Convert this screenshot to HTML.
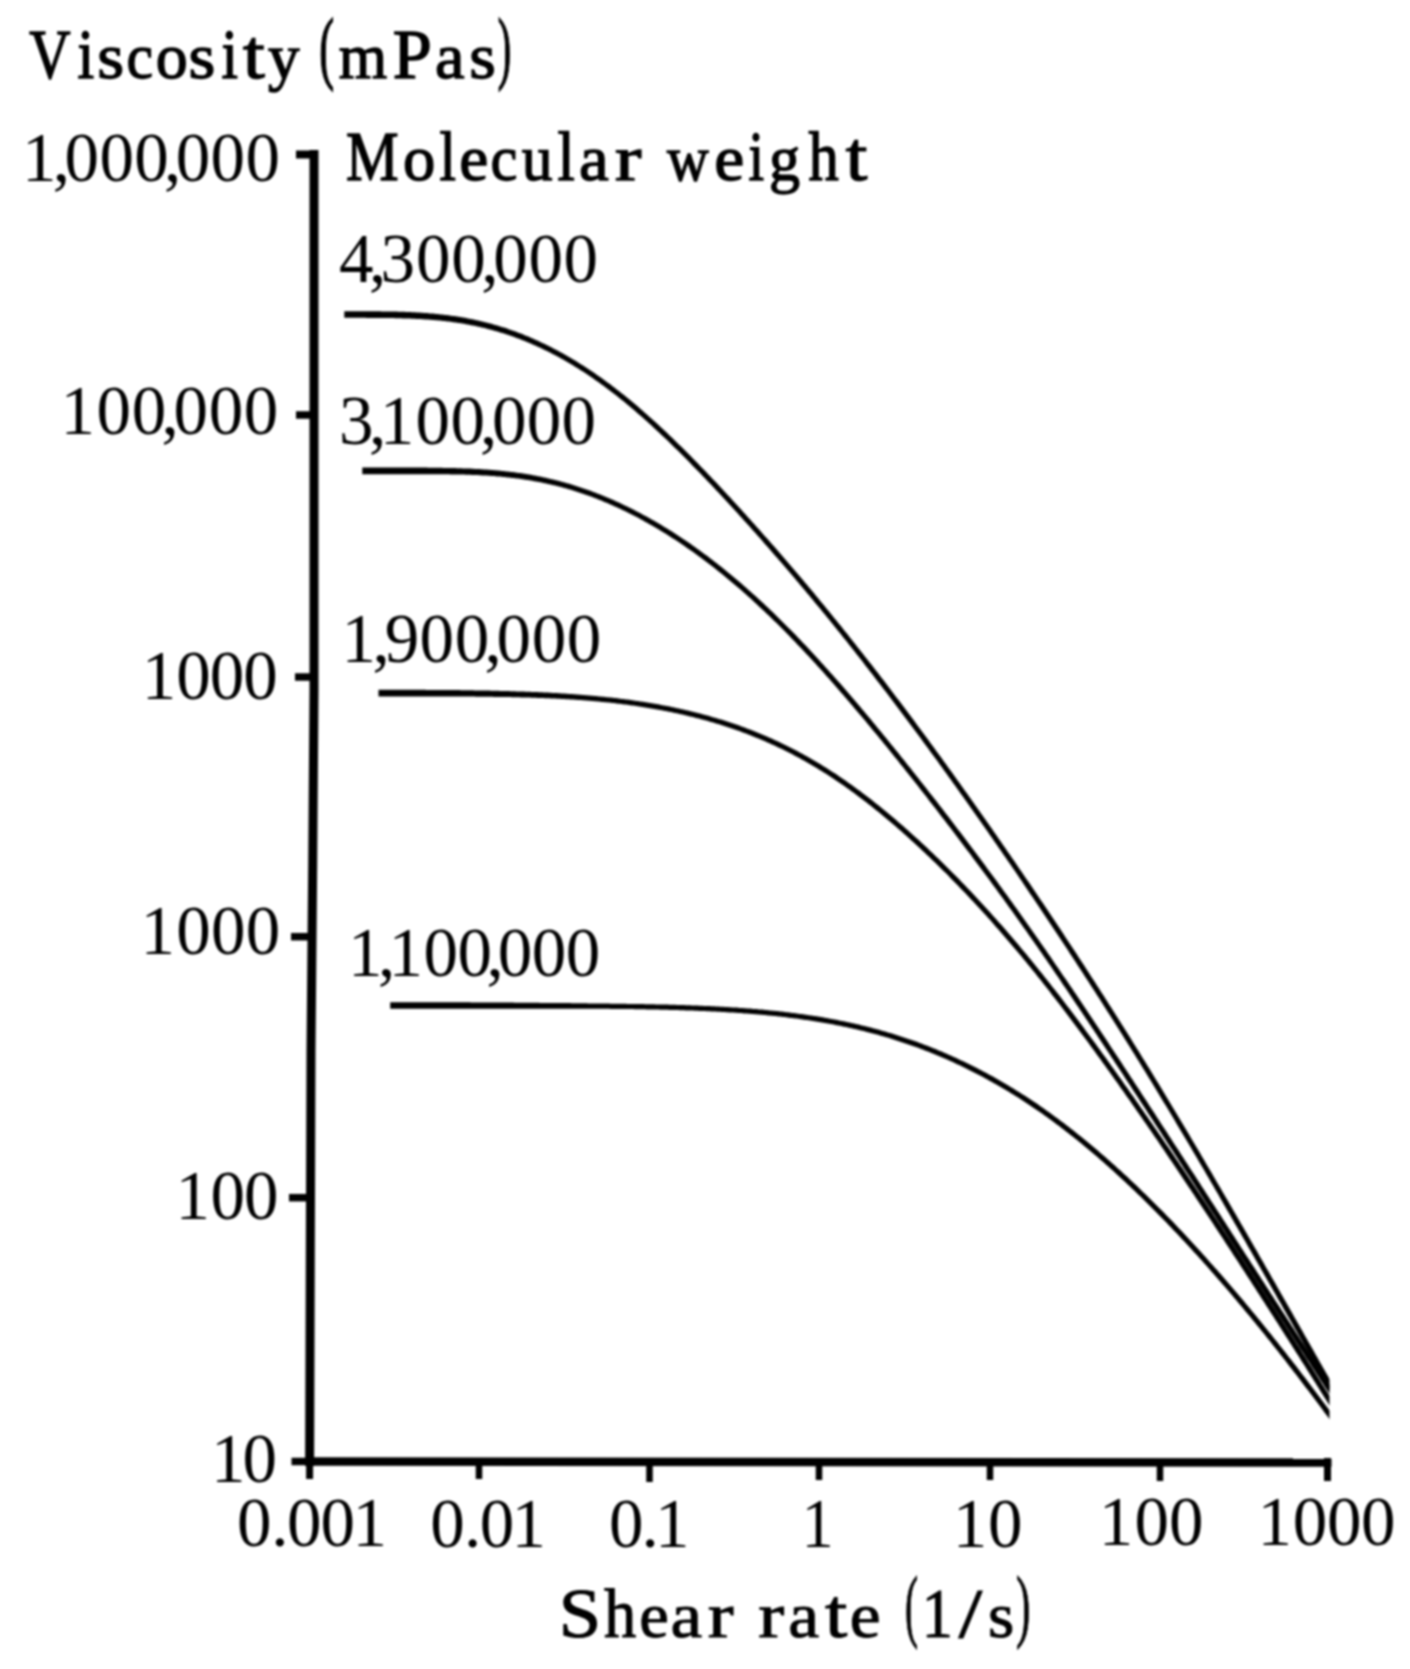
<!DOCTYPE html>
<html><head><meta charset="utf-8"><style>
html,body{margin:0;padding:0;background:#fff;width:1410px;height:1669px;overflow:hidden}
svg{display:block}
text{font-family:"Liberation Serif", serif;fill:#000}
</style></head><body>
<svg width="1410" height="1669" viewBox="0 0 1410 1669">
<defs><filter id="bl" x="-5%" y="-5%" width="110%" height="110%"><feGaussianBlur stdDeviation="1"/></filter><clipPath id="cp"><rect x="0" y="0" width="1329.5" height="1669"/></clipPath></defs>
<g filter="url(#bl)">
<g fill="none" stroke="#000" stroke-linecap="butt">
<path d="M314 150 L314 690 C314 760 311.2 1000 311 1050 L309.6 1466" stroke-width="9"/>
<path d="M296 154.5 L314 154.5" stroke-width="8"/>
<path d="M296 415 L313.5 415" stroke-width="7.5"/>
<path d="M295 677 L313 677" stroke-width="7.5"/>
<path d="M291 936.7 L312 936.7" stroke-width="7.5"/>
<path d="M289 1197.7 L311 1197.7" stroke-width="7.5"/>
<path d="M291.5 1461.5 L310 1461.5" stroke-width="7.5"/>
<path d="M305.6 1461.6 L1331.5 1462.6" stroke-width="8.5"/>
<path d="M309.6 1462 L309.6 1479" stroke-width="7"/>
<path d="M479 1462 L479 1479" stroke-width="6.5"/>
<path d="M649.5 1462 L649.5 1482" stroke-width="6.5"/>
<path d="M819 1462 L819 1480" stroke-width="6.5"/>
<path d="M990 1462 L990 1480" stroke-width="6.5"/>
<path d="M1160 1462 L1160 1481" stroke-width="6.5"/>
<path d="M1327.5 1458 L1327.5 1481" stroke-width="7"/>
</g>
<g clip-path="url(#cp)" fill="#000" stroke="none">
<path d="M344.3 317.8 L345.8 317.8 L347.3 317.8 L348.8 317.8 L350.3 317.8 L351.8 317.8 L353.3 317.8 L354.8 317.8 L356.3 317.8 L357.8 317.8 L359.3 317.8 L360.8 317.8 L362.3 317.8 L363.8 317.8 L365.3 317.8 L366.8 317.9 L368.3 317.9 L369.8 317.9 L371.3 317.9 L372.8 317.9 L374.3 317.9 L375.8 317.9 L377.3 317.9 L378.8 317.9 L380.3 317.9 L381.8 318.0 L383.3 318.0 L384.8 318.0 L386.3 318.0 L387.7 318.0 L389.2 318.1 L390.7 318.1 L392.2 318.1 L393.7 318.1 L395.2 318.2 L396.7 318.2 L398.2 318.3 L399.7 318.3 L401.2 318.3 L402.7 318.4 L404.2 318.4 L405.7 318.5 L407.2 318.5 L408.7 318.6 L410.2 318.6 L411.7 318.7 L413.1 318.8 L414.6 318.8 L416.1 318.9 L417.6 319.0 L419.1 319.0 L420.6 319.1 L422.1 319.2 L423.6 319.3 L425.1 319.4 L426.6 319.5 L428.1 319.6 L429.5 319.7 L431.0 319.8 L432.5 319.9 L434.0 320.1 L435.5 320.2 L437.0 320.3 L438.5 320.5 L440.0 320.6 L441.5 320.8 L442.9 320.9 L444.4 321.1 L445.9 321.3 L447.4 321.5 L448.9 321.6 L450.4 321.8 L451.9 322.0 L453.4 322.2 L454.9 322.4 L456.3 322.6 L457.8 322.9 L459.3 323.1 L460.8 323.3 L462.3 323.6 L463.8 323.8 L465.3 324.1 L466.7 324.4 L468.2 324.6 L469.7 324.9 L471.2 325.2 L472.7 325.5 L474.2 325.8 L475.7 326.1 L477.2 326.4 L478.6 326.8 L480.1 327.1 L481.6 327.4 L483.1 327.8 L484.6 328.1 L486.1 328.5 L487.6 328.9 L489.0 329.3 L490.5 329.7 L492.0 330.1 L493.5 330.5 L495.0 330.9 L496.5 331.3 L498.0 331.8 L499.5 332.2 L500.9 332.7 L502.4 333.1 L503.9 333.6 L505.4 334.1 L506.9 334.6 L508.4 335.0 L509.9 335.6 L511.4 336.1 L512.8 336.6 L514.3 337.1 L515.8 337.7 L517.3 338.2 L518.8 338.8 L520.3 339.3 L521.8 339.9 L523.3 340.5 L524.8 341.1 L526.2 341.7 L527.7 342.3 L529.2 342.9 L530.7 343.6 L532.2 344.2 L533.7 344.9 L535.2 345.5 L536.7 346.2 L538.2 346.9 L539.7 347.6 L541.1 348.3 L542.6 349.0 L544.1 349.7 L545.6 350.4 L547.1 351.1 L548.6 351.9 L550.1 352.6 L551.6 353.4 L553.1 354.2 L554.6 354.9 L556.1 355.7 L557.5 356.5 L559.0 357.3 L560.5 358.2 L562.0 359.0 L563.5 359.8 L565.0 360.7 L566.5 361.5 L568.0 362.4 L569.5 363.3 L571.0 364.2 L572.5 365.1 L573.9 366.0 L575.4 366.9 L576.9 367.8 L578.4 368.8 L579.9 369.7 L581.4 370.7 L582.9 371.6 L584.4 372.6 L585.9 373.6 L587.4 374.6 L588.8 375.6 L590.3 376.6 L591.8 377.6 L593.3 378.6 L594.8 379.7 L596.3 380.7 L597.8 381.8 L599.3 382.8 L600.8 383.9 L602.3 385.0 L603.8 386.1 L605.3 387.2 L606.7 388.3 L608.2 389.4 L609.7 390.5 L611.2 391.7 L612.7 392.8 L614.2 394.0 L615.7 395.1 L617.2 396.3 L618.7 397.5 L620.2 398.7 L621.7 399.9 L623.2 401.1 L624.7 402.3 L626.1 403.5 L627.6 404.8 L629.1 406.0 L630.6 407.3 L632.1 408.5 L633.6 409.8 L635.1 411.1 L636.6 412.4 L638.1 413.7 L639.6 415.0 L641.1 416.3 L642.6 417.6 L644.1 418.9 L645.6 420.2 L647.1 421.6 L648.6 422.9 L650.1 424.3 L651.5 425.6 L653.0 427.0 L654.5 428.4 L656.0 429.8 L657.5 431.2 L659.0 432.6 L660.5 434.0 L662.0 435.4 L663.5 436.8 L665.0 438.2 L666.5 439.6 L668.0 441.1 L669.5 442.5 L671.0 444.0 L672.5 445.4 L674.0 446.9 L675.5 448.4 L677.0 449.8 L678.5 451.3 L680.0 452.8 L681.5 454.3 L683.0 455.8 L684.5 457.3 L686.0 458.8 L687.5 460.3 L688.9 461.8 L690.4 463.3 L691.9 464.9 L693.4 466.4 L694.9 467.9 L696.4 469.5 L697.9 471.0 L699.4 472.6 L700.9 474.1 L702.4 475.7 L703.9 477.2 L705.4 478.8 L706.9 480.4 L708.4 482.0 L709.9 483.5 L711.4 485.1 L712.9 486.7 L714.4 488.3 L715.9 489.9 L717.4 491.5 L718.9 493.1 L720.4 494.7 L721.9 496.3 L723.4 497.9 L724.9 499.5 L726.4 501.2 L727.9 502.8 L729.4 504.4 L730.9 506.0 L732.4 507.7 L733.9 509.3 L735.4 510.9 L736.9 512.6 L738.4 514.2 L739.9 515.9 L741.4 517.5 L742.9 519.2 L744.4 520.9 L745.9 522.5 L747.4 524.2 L748.9 525.8 L750.4 527.5 L751.9 529.2 L753.4 530.9 L754.9 532.5 L756.4 534.2 L757.9 535.9 L759.4 537.6 L760.9 539.3 L762.4 541.0 L763.8 542.7 L765.3 544.4 L766.8 546.1 L768.3 547.8 L769.8 549.5 L771.3 551.2 L772.8 553.0 L774.3 554.7 L775.8 556.4 L777.3 558.1 L778.8 559.9 L780.3 561.6 L781.8 563.3 L783.3 565.1 L784.8 566.8 L786.3 568.6 L787.8 570.3 L789.3 572.1 L790.8 573.8 L792.3 575.6 L793.8 577.3 L795.3 579.1 L796.8 580.9 L798.3 582.6 L799.8 584.4 L801.3 586.2 L802.8 588.0 L804.3 589.8 L805.8 591.6 L807.3 593.4 L808.8 595.1 L810.3 596.9 L811.8 598.7 L813.3 600.6 L814.8 602.4 L816.3 604.2 L817.8 606.0 L819.3 607.8 L820.8 609.6 L822.3 611.5 L823.8 613.3 L825.3 615.1 L826.8 617.0 L828.3 618.8 L829.8 620.6 L831.3 622.5 L832.8 624.3 L834.3 626.2 L835.8 628.0 L837.3 629.9 L838.8 631.8 L840.3 633.6 L841.8 635.5 L843.3 637.4 L844.8 639.3 L846.3 641.1 L847.8 643.0 L849.3 644.9 L850.8 646.8 L852.3 648.7 L853.8 650.6 L855.3 652.5 L856.8 654.4 L858.3 656.3 L859.8 658.2 L861.3 660.1 L862.8 662.0 L864.3 663.9 L865.7 665.9 L867.2 667.8 L868.7 669.7 L870.2 671.7 L871.7 673.6 L873.2 675.5 L874.7 677.5 L876.2 679.4 L877.7 681.4 L879.2 683.3 L880.7 685.3 L882.2 687.2 L883.7 689.2 L885.2 691.1 L886.7 693.1 L888.2 695.1 L889.7 697.0 L891.2 699.0 L892.7 701.0 L894.2 703.0 L895.7 705.0 L897.2 706.9 L898.7 708.9 L900.2 710.9 L901.7 712.9 L903.2 714.9 L904.7 716.9 L906.2 718.9 L907.7 720.9 L909.2 722.9 L910.7 725.0 L912.2 727.0 L913.7 729.0 L915.2 731.0 L916.7 733.0 L918.2 735.1 L919.7 737.1 L921.2 739.1 L922.7 741.2 L924.2 743.2 L925.7 745.2 L927.2 747.3 L928.7 749.3 L930.2 751.4 L931.7 753.4 L933.2 755.5 L934.7 757.5 L936.2 759.6 L937.7 761.6 L939.2 763.7 L940.7 765.8 L942.2 767.8 L943.7 769.9 L945.2 772.0 L946.7 774.1 L948.2 776.2 L949.7 778.2 L951.2 780.3 L952.7 782.4 L954.2 784.5 L955.7 786.6 L957.2 788.7 L958.7 790.8 L960.2 792.9 L961.7 795.0 L963.2 797.1 L964.7 799.2 L966.2 801.3 L967.7 803.4 L969.2 805.5 L970.7 807.7 L972.2 809.8 L973.7 811.9 L975.2 814.0 L976.7 816.2 L978.2 818.3 L979.7 820.4 L981.2 822.5 L982.7 824.7 L984.2 826.8 L985.7 829.0 L987.2 831.1 L988.7 833.3 L990.2 835.4 L991.7 837.6 L993.2 839.7 L994.7 841.9 L996.2 844.0 L997.7 846.2 L999.2 848.4 L1000.7 850.5 L1002.2 852.7 L1003.7 854.9 L1005.2 857.0 L1006.7 859.2 L1008.2 861.4 L1009.7 863.6 L1011.2 865.8 L1012.7 868.0 L1014.2 870.1 L1015.7 872.3 L1017.2 874.5 L1018.7 876.7 L1020.2 878.9 L1021.7 881.1 L1023.1 883.3 L1024.6 885.5 L1026.1 887.7 L1027.6 890.0 L1029.1 892.2 L1030.6 894.4 L1032.1 896.6 L1033.6 898.8 L1035.1 901.1 L1036.6 903.3 L1038.1 905.5 L1039.6 907.7 L1041.1 910.0 L1042.6 912.2 L1044.1 914.5 L1045.6 916.7 L1047.1 918.9 L1048.6 921.2 L1050.1 923.4 L1051.6 925.7 L1053.1 927.9 L1054.6 930.2 L1056.1 932.5 L1057.6 934.7 L1059.1 937.0 L1060.6 939.3 L1062.1 941.5 L1063.6 943.8 L1065.1 946.1 L1066.6 948.3 L1068.1 950.6 L1069.6 952.9 L1071.1 955.2 L1072.6 957.5 L1074.1 959.8 L1075.6 962.1 L1077.1 964.4 L1078.6 966.7 L1080.1 969.0 L1081.6 971.3 L1083.1 973.6 L1084.6 975.9 L1086.1 978.2 L1087.6 980.5 L1089.1 982.8 L1090.6 985.2 L1092.1 987.5 L1093.6 989.8 L1095.1 992.1 L1096.6 994.5 L1098.1 996.8 L1099.6 999.1 L1101.1 1001.5 L1102.6 1003.8 L1104.1 1006.2 L1105.6 1008.5 L1107.1 1010.9 L1108.6 1013.2 L1110.1 1015.6 L1111.6 1018.0 L1113.1 1020.3 L1114.6 1022.7 L1116.1 1025.1 L1117.6 1027.5 L1119.1 1029.8 L1120.6 1032.2 L1122.1 1034.6 L1123.6 1037.0 L1125.1 1039.4 L1126.6 1041.8 L1128.1 1044.2 L1129.6 1046.6 L1131.1 1049.0 L1132.6 1051.4 L1134.1 1053.8 L1135.6 1056.3 L1137.1 1058.7 L1138.6 1061.1 L1140.1 1063.5 L1141.6 1066.0 L1143.1 1068.4 L1144.6 1070.8 L1146.1 1073.3 L1147.6 1075.7 L1149.1 1078.2 L1150.6 1080.6 L1152.1 1083.1 L1153.6 1085.5 L1155.1 1088.0 L1156.6 1090.5 L1158.1 1092.9 L1159.6 1095.4 L1161.1 1097.9 L1162.6 1100.4 L1164.1 1102.9 L1165.6 1105.3 L1167.1 1107.8 L1168.6 1110.3 L1170.1 1112.8 L1171.6 1115.3 L1173.1 1117.8 L1174.6 1120.3 L1176.1 1122.9 L1177.6 1125.4 L1179.1 1127.9 L1180.6 1130.4 L1182.1 1132.9 L1183.6 1135.5 L1185.1 1138.0 L1186.6 1140.5 L1188.1 1143.1 L1189.6 1145.6 L1191.1 1148.1 L1192.6 1150.7 L1194.1 1153.2 L1195.6 1155.8 L1197.1 1158.3 L1198.6 1160.9 L1200.1 1163.4 L1201.6 1166.0 L1203.1 1168.6 L1204.6 1171.1 L1206.1 1173.7 L1207.6 1176.3 L1209.1 1178.8 L1210.6 1181.4 L1212.1 1184.0 L1213.6 1186.6 L1215.1 1189.2 L1216.6 1191.7 L1218.1 1194.3 L1219.6 1196.9 L1221.0 1199.5 L1222.5 1202.1 L1224.0 1204.7 L1225.5 1207.3 L1227.0 1209.9 L1228.5 1212.5 L1230.0 1215.1 L1231.5 1217.7 L1233.0 1220.3 L1234.5 1222.9 L1236.0 1225.5 L1237.5 1228.1 L1239.0 1230.7 L1240.5 1233.3 L1242.0 1235.9 L1243.5 1238.5 L1245.0 1241.1 L1246.5 1243.8 L1248.0 1246.4 L1249.5 1249.0 L1251.0 1251.6 L1252.5 1254.2 L1254.0 1256.8 L1255.5 1259.5 L1257.0 1262.1 L1258.5 1264.7 L1260.0 1267.3 L1261.5 1270.0 L1263.0 1272.6 L1264.5 1275.2 L1266.0 1277.8 L1267.5 1280.5 L1269.0 1283.1 L1270.5 1285.7 L1272.0 1288.3 L1273.5 1291.0 L1275.0 1293.6 L1276.5 1296.2 L1278.0 1298.9 L1279.5 1301.5 L1281.0 1304.1 L1282.5 1306.8 L1284.0 1309.4 L1285.5 1312.1 L1287.0 1314.7 L1288.5 1317.3 L1290.0 1320.0 L1291.5 1322.6 L1293.0 1325.2 L1294.5 1327.9 L1296.0 1330.5 L1297.5 1333.2 L1299.0 1335.8 L1300.5 1338.5 L1302.0 1341.1 L1303.5 1343.7 L1305.0 1346.4 L1306.5 1349.0 L1308.0 1351.7 L1309.5 1354.3 L1311.0 1357.0 L1312.5 1359.6 L1314.0 1362.3 L1315.5 1364.9 L1317.0 1367.6 L1318.5 1370.2 L1320.0 1372.9 L1321.5 1375.5 L1323.0 1378.2 L1324.5 1380.8 L1325.7 1383.0 L1333.7 1397.1 L1338.3 1394.6 L1330.3 1380.4 L1329.1 1378.3 L1327.6 1375.6 L1326.1 1373.0 L1324.6 1370.3 L1323.1 1367.7 L1321.6 1365.0 L1320.1 1362.4 L1318.6 1359.7 L1317.1 1357.1 L1315.6 1354.4 L1314.1 1351.8 L1312.6 1349.1 L1311.1 1346.5 L1309.6 1343.8 L1308.1 1341.2 L1306.6 1338.5 L1305.1 1335.9 L1303.6 1333.2 L1302.1 1330.6 L1300.6 1328.0 L1299.1 1325.3 L1297.6 1322.7 L1296.1 1320.0 L1294.6 1317.4 L1293.1 1314.8 L1291.6 1312.1 L1290.1 1309.5 L1288.6 1306.8 L1287.1 1304.2 L1285.6 1301.6 L1284.1 1298.9 L1282.6 1296.3 L1281.1 1293.7 L1279.6 1291.0 L1278.1 1288.4 L1276.6 1285.8 L1275.1 1283.1 L1273.6 1280.5 L1272.1 1277.9 L1270.6 1275.3 L1269.1 1272.6 L1267.6 1270.0 L1266.1 1267.4 L1264.6 1264.8 L1263.1 1262.1 L1261.6 1259.5 L1260.1 1256.9 L1258.6 1254.3 L1257.1 1251.6 L1255.6 1249.0 L1254.1 1246.4 L1252.6 1243.8 L1251.1 1241.2 L1249.6 1238.6 L1248.1 1235.9 L1246.6 1233.3 L1245.1 1230.7 L1243.6 1228.1 L1242.1 1225.5 L1240.6 1222.9 L1239.1 1220.3 L1237.6 1217.7 L1236.1 1215.1 L1234.6 1212.5 L1233.1 1209.9 L1231.6 1207.3 L1230.1 1204.7 L1228.6 1202.1 L1227.1 1199.5 L1225.6 1196.9 L1224.0 1194.3 L1222.5 1191.7 L1221.0 1189.1 L1219.5 1186.5 L1218.0 1184.0 L1216.5 1181.4 L1215.0 1178.8 L1213.5 1176.2 L1212.0 1173.6 L1210.5 1171.1 L1209.0 1168.5 L1207.5 1165.9 L1206.0 1163.4 L1204.5 1160.8 L1203.0 1158.3 L1201.5 1155.7 L1200.0 1153.1 L1198.5 1150.6 L1197.0 1148.0 L1195.5 1145.5 L1194.0 1143.0 L1192.5 1140.4 L1191.0 1137.9 L1189.5 1135.3 L1188.0 1132.8 L1186.5 1130.3 L1185.0 1127.8 L1183.5 1125.2 L1182.0 1122.7 L1180.5 1120.2 L1179.0 1117.7 L1177.5 1115.2 L1176.0 1112.7 L1174.5 1110.2 L1173.0 1107.7 L1171.5 1105.2 L1170.0 1102.7 L1168.5 1100.2 L1167.0 1097.7 L1165.5 1095.2 L1164.0 1092.7 L1162.5 1090.2 L1161.0 1087.8 L1159.5 1085.3 L1158.0 1082.8 L1156.5 1080.4 L1155.0 1077.9 L1153.5 1075.5 L1152.0 1073.0 L1150.5 1070.6 L1149.0 1068.1 L1147.5 1065.7 L1146.0 1063.2 L1144.5 1060.8 L1143.0 1058.4 L1141.5 1055.9 L1140.0 1053.5 L1138.5 1051.1 L1137.0 1048.7 L1135.5 1046.3 L1134.0 1043.9 L1132.5 1041.4 L1131.0 1039.0 L1129.5 1036.6 L1128.0 1034.2 L1126.5 1031.8 L1125.0 1029.5 L1123.5 1027.1 L1122.0 1024.7 L1120.5 1022.3 L1119.0 1019.9 L1117.5 1017.6 L1116.0 1015.2 L1114.5 1012.8 L1113.0 1010.5 L1111.5 1008.1 L1110.0 1005.7 L1108.5 1003.4 L1107.0 1001.0 L1105.5 998.7 L1104.0 996.3 L1102.5 994.0 L1101.0 991.7 L1099.5 989.3 L1098.0 987.0 L1096.5 984.7 L1095.0 982.3 L1093.5 980.0 L1092.0 977.7 L1090.5 975.4 L1089.0 973.1 L1087.5 970.7 L1086.0 968.4 L1084.5 966.1 L1083.0 963.8 L1081.5 961.5 L1080.0 959.2 L1078.5 956.9 L1077.0 954.6 L1075.5 952.3 L1074.0 950.1 L1072.5 947.8 L1071.0 945.5 L1069.5 943.2 L1068.0 940.9 L1066.5 938.7 L1065.0 936.4 L1063.5 934.1 L1062.0 931.8 L1060.5 929.6 L1059.0 927.3 L1057.5 925.1 L1056.0 922.8 L1054.5 920.6 L1053.0 918.3 L1051.5 916.1 L1050.0 913.8 L1048.5 911.6 L1047.0 909.3 L1045.5 907.1 L1044.0 904.8 L1042.5 902.6 L1041.0 900.4 L1039.5 898.2 L1038.0 895.9 L1036.5 893.7 L1035.0 891.5 L1033.5 889.3 L1032.0 887.0 L1030.5 884.8 L1029.0 882.6 L1027.5 880.4 L1025.9 878.2 L1024.4 876.0 L1022.9 873.8 L1021.4 871.6 L1019.9 869.4 L1018.4 867.2 L1016.9 865.0 L1015.4 862.8 L1013.9 860.6 L1012.4 858.5 L1010.9 856.3 L1009.4 854.1 L1007.9 851.9 L1006.4 849.7 L1004.9 847.6 L1003.4 845.4 L1001.9 843.2 L1000.4 841.1 L998.9 838.9 L997.4 836.8 L995.9 834.6 L994.4 832.4 L992.9 830.3 L991.4 828.1 L989.9 826.0 L988.4 823.8 L986.9 821.7 L985.4 819.6 L983.9 817.4 L982.4 815.3 L980.9 813.2 L979.4 811.0 L977.9 808.9 L976.4 806.8 L974.9 804.7 L973.4 802.5 L971.9 800.4 L970.4 798.3 L968.9 796.2 L967.4 794.1 L965.9 792.0 L964.4 789.9 L962.9 787.8 L961.4 785.7 L959.9 783.6 L958.4 781.5 L956.9 779.4 L955.4 777.3 L953.9 775.2 L952.4 773.1 L950.9 771.0 L949.4 769.0 L947.9 766.9 L946.4 764.8 L944.9 762.7 L943.4 760.7 L941.9 758.6 L940.4 756.5 L938.9 754.5 L937.4 752.4 L935.9 750.4 L934.4 748.3 L932.9 746.2 L931.4 744.2 L929.9 742.2 L928.4 740.1 L926.9 738.1 L925.4 736.0 L923.9 734.0 L922.4 732.0 L920.9 729.9 L919.4 727.9 L917.9 725.9 L916.4 723.9 L914.9 721.8 L913.4 719.8 L911.9 717.8 L910.4 715.8 L908.9 713.8 L907.4 711.8 L905.9 709.8 L904.4 707.8 L902.9 705.8 L901.4 703.8 L899.9 701.8 L898.4 699.8 L896.9 697.9 L895.4 695.9 L893.9 693.9 L892.4 691.9 L890.9 690.0 L889.4 688.0 L887.9 686.0 L886.4 684.1 L884.9 682.1 L883.4 680.1 L881.9 678.2 L880.4 676.2 L878.9 674.3 L877.4 672.3 L875.9 670.4 L874.4 668.5 L872.9 666.5 L871.4 664.6 L869.9 662.7 L868.3 660.7 L866.8 658.8 L865.3 656.9 L863.8 655.0 L862.3 653.1 L860.8 651.2 L859.3 649.3 L857.8 647.4 L856.3 645.5 L854.8 643.6 L853.3 641.7 L851.8 639.8 L850.3 637.9 L848.8 636.0 L847.3 634.1 L845.8 632.3 L844.3 630.4 L842.8 628.5 L841.3 626.6 L839.8 624.8 L838.3 622.9 L836.8 621.1 L835.3 619.2 L833.8 617.4 L832.3 615.5 L830.8 613.7 L829.3 611.8 L827.8 610.0 L826.3 608.2 L824.8 606.3 L823.3 604.5 L821.8 602.7 L820.3 600.9 L818.8 599.0 L817.3 597.2 L815.8 595.4 L814.3 593.6 L812.8 591.8 L811.3 590.0 L809.8 588.2 L808.3 586.4 L806.8 584.6 L805.3 582.9 L803.8 581.1 L802.3 579.3 L800.8 577.5 L799.3 575.7 L797.8 574.0 L796.3 572.2 L794.8 570.4 L793.3 568.7 L791.8 566.9 L790.3 565.2 L788.8 563.4 L787.3 561.7 L785.8 559.9 L784.3 558.2 L782.8 556.5 L781.3 554.7 L779.8 553.0 L778.3 551.3 L776.8 549.5 L775.3 547.8 L773.8 546.1 L772.3 544.4 L770.8 542.7 L769.3 541.0 L767.8 539.3 L766.2 537.6 L764.7 535.9 L763.2 534.2 L761.7 532.5 L760.2 530.8 L758.7 529.1 L757.2 527.4 L755.7 525.7 L754.2 524.0 L752.7 522.4 L751.2 520.7 L749.7 519.0 L748.2 517.4 L746.7 515.7 L745.2 514.0 L743.7 512.4 L742.2 510.7 L740.7 509.1 L739.2 507.4 L737.7 505.8 L736.2 504.2 L734.7 502.5 L733.2 500.9 L731.7 499.3 L730.2 497.6 L728.7 496.0 L727.2 494.4 L725.7 492.8 L724.2 491.2 L722.7 489.5 L721.2 487.9 L719.7 486.3 L718.2 484.7 L716.7 483.1 L715.2 481.5 L713.7 480.0 L712.2 478.4 L710.7 476.8 L709.2 475.2 L707.7 473.7 L706.2 472.1 L704.7 470.5 L703.2 469.0 L701.7 467.4 L700.2 465.9 L698.7 464.3 L697.2 462.8 L695.7 461.2 L694.2 459.7 L692.7 458.2 L691.1 456.6 L689.6 455.1 L688.1 453.6 L686.6 452.1 L685.1 450.6 L683.6 449.1 L682.1 447.6 L680.6 446.1 L679.1 444.7 L677.6 443.2 L676.1 441.7 L674.6 440.2 L673.1 438.8 L671.6 437.3 L670.1 435.9 L668.6 434.5 L667.1 433.0 L665.6 431.6 L664.1 430.2 L662.6 428.8 L661.1 427.4 L659.6 426.0 L658.1 424.6 L656.6 423.2 L655.1 421.8 L653.5 420.4 L652.0 419.1 L650.5 417.7 L649.0 416.4 L647.5 415.0 L646.0 413.7 L644.5 412.4 L643.0 411.0 L641.5 409.7 L640.0 408.4 L638.5 407.1 L637.0 405.8 L635.5 404.6 L634.0 403.3 L632.5 402.0 L631.0 400.8 L629.5 399.5 L627.9 398.3 L626.4 397.1 L624.9 395.8 L623.4 394.6 L621.9 393.4 L620.4 392.2 L618.9 391.1 L617.4 389.9 L615.9 388.7 L614.4 387.6 L612.9 386.4 L611.4 385.3 L609.9 384.1 L608.3 383.0 L606.8 381.9 L605.3 380.8 L603.8 379.7 L602.3 378.6 L600.8 377.5 L599.3 376.5 L597.8 375.4 L596.3 374.4 L594.8 373.3 L593.3 372.3 L591.8 371.3 L590.2 370.2 L588.7 369.2 L587.2 368.2 L585.7 367.3 L584.2 366.3 L582.7 365.3 L581.2 364.4 L579.7 363.4 L578.2 362.5 L576.7 361.5 L575.1 360.6 L573.6 359.7 L572.1 358.8 L570.6 357.9 L569.1 357.0 L567.6 356.2 L566.1 355.3 L564.6 354.4 L563.1 353.6 L561.6 352.8 L560.1 351.9 L558.5 351.1 L557.0 350.3 L555.5 349.5 L554.0 348.7 L552.5 347.9 L551.0 347.1 L549.5 346.4 L548.0 345.6 L546.5 344.9 L545.0 344.1 L543.5 343.4 L541.9 342.7 L540.4 342.0 L538.9 341.3 L537.4 340.6 L535.9 339.9 L534.4 339.2 L532.9 338.5 L531.4 337.9 L529.9 337.2 L528.4 336.6 L526.8 336.0 L525.3 335.4 L523.8 334.7 L522.3 334.1 L520.8 333.6 L519.3 333.0 L517.8 332.4 L516.3 331.8 L514.8 331.3 L513.2 330.7 L511.7 330.2 L510.2 329.7 L508.7 329.2 L507.2 328.6 L505.7 328.1 L504.2 327.6 L502.7 327.2 L501.1 326.7 L499.6 326.2 L498.1 325.8 L496.6 325.3 L495.1 324.9 L493.6 324.5 L492.1 324.0 L490.6 323.6 L489.0 323.2 L487.5 322.8 L486.0 322.4 L484.5 322.0 L483.0 321.7 L481.5 321.3 L480.0 321.0 L478.4 320.6 L476.9 320.3 L475.4 319.9 L473.9 319.6 L472.4 319.3 L470.9 319.0 L469.4 318.7 L467.9 318.4 L466.3 318.1 L464.8 317.8 L463.3 317.6 L461.8 317.3 L460.3 317.1 L458.8 316.8 L457.3 316.6 L455.7 316.3 L454.2 316.1 L452.7 315.9 L451.2 315.7 L449.7 315.5 L448.2 315.3 L446.7 315.1 L445.2 314.9 L443.7 314.7 L442.1 314.5 L440.6 314.4 L439.1 314.2 L437.6 314.1 L436.1 313.9 L434.6 313.8 L433.1 313.6 L431.6 313.5 L430.1 313.4 L428.5 313.2 L427.0 313.1 L425.5 313.0 L424.0 312.9 L422.5 312.8 L421.0 312.7 L419.5 312.6 L418.0 312.5 L416.5 312.4 L415.0 312.3 L413.5 312.2 L411.9 312.2 L410.4 312.1 L408.9 312.0 L407.4 312.0 L405.9 311.9 L404.4 311.8 L402.9 311.8 L401.4 311.7 L399.9 311.7 L398.4 311.7 L396.9 311.6 L395.4 311.6 L393.9 311.6 L392.4 311.5 L390.9 311.5 L389.4 311.5 L387.9 311.4 L386.3 311.4 L384.8 311.4 L383.3 311.4 L381.8 311.4 L380.3 311.3 L378.8 311.3 L377.3 311.3 L375.8 311.3 L374.3 311.3 L372.8 311.3 L371.3 311.3 L369.8 311.3 L368.3 311.3 L366.8 311.3 L365.3 311.2 L363.8 311.2 L362.3 311.2 L360.8 311.2 L359.3 311.2 L357.8 311.2 L356.3 311.2 L354.8 311.2 L353.3 311.2 L351.8 311.2 L350.3 311.2 L348.8 311.2 L347.3 311.2 L345.8 311.2 L344.3 311.2Z"/>
<path d="M362.3 474.2 L363.8 474.2 L365.3 474.2 L366.8 474.2 L368.3 474.2 L369.8 474.2 L371.3 474.2 L372.8 474.2 L374.3 474.2 L375.8 474.2 L377.3 474.2 L378.8 474.2 L380.3 474.2 L381.8 474.2 L383.3 474.2 L384.8 474.2 L386.3 474.2 L387.8 474.2 L389.3 474.2 L390.8 474.2 L392.3 474.2 L393.8 474.2 L395.3 474.2 L396.8 474.2 L398.3 474.2 L399.8 474.2 L401.3 474.2 L402.8 474.2 L404.3 474.2 L405.8 474.2 L407.3 474.2 L408.8 474.2 L410.3 474.2 L411.8 474.2 L413.3 474.2 L414.8 474.2 L416.3 474.2 L417.8 474.2 L419.3 474.2 L420.8 474.2 L422.3 474.2 L423.8 474.2 L425.3 474.2 L426.8 474.2 L428.3 474.2 L429.8 474.2 L431.3 474.2 L432.8 474.2 L434.3 474.2 L435.8 474.2 L437.3 474.2 L438.8 474.2 L440.3 474.2 L441.8 474.3 L443.3 474.3 L444.8 474.3 L446.3 474.3 L447.7 474.3 L449.2 474.3 L450.7 474.4 L452.2 474.4 L453.7 474.4 L455.2 474.4 L456.7 474.5 L458.2 474.5 L459.7 474.5 L461.2 474.6 L462.7 474.6 L464.2 474.6 L465.7 474.7 L467.2 474.7 L468.7 474.8 L470.2 474.8 L471.7 474.9 L473.2 474.9 L474.7 475.0 L476.2 475.1 L477.6 475.1 L479.1 475.2 L480.6 475.3 L482.1 475.4 L483.6 475.4 L485.1 475.5 L486.6 475.6 L488.1 475.7 L489.6 475.8 L491.1 475.9 L492.6 476.0 L494.1 476.1 L495.5 476.2 L497.0 476.4 L498.5 476.5 L500.0 476.6 L501.5 476.8 L503.0 476.9 L504.5 477.0 L506.0 477.2 L507.5 477.4 L509.0 477.5 L510.5 477.7 L511.9 477.9 L513.4 478.0 L514.9 478.2 L516.4 478.4 L517.9 478.6 L519.4 478.8 L520.9 479.0 L522.4 479.2 L523.9 479.5 L525.4 479.7 L526.8 479.9 L528.3 480.1 L529.8 480.4 L531.3 480.6 L532.8 480.9 L534.3 481.2 L535.8 481.4 L537.3 481.7 L538.8 482.0 L540.2 482.3 L541.7 482.6 L543.2 482.9 L544.7 483.2 L546.2 483.5 L547.7 483.9 L549.2 484.2 L550.7 484.5 L552.2 484.9 L553.7 485.2 L555.1 485.6 L556.6 486.0 L558.1 486.3 L559.6 486.7 L561.1 487.1 L562.6 487.5 L564.1 487.9 L565.6 488.3 L567.1 488.8 L568.5 489.2 L570.0 489.6 L571.5 490.1 L573.0 490.5 L574.5 491.0 L576.0 491.5 L577.5 491.9 L579.0 492.4 L580.5 492.9 L582.0 493.4 L583.5 493.9 L584.9 494.4 L586.4 495.0 L587.9 495.5 L589.4 496.0 L590.9 496.6 L592.4 497.1 L593.9 497.7 L595.4 498.3 L596.9 498.8 L598.3 499.4 L599.8 500.0 L601.3 500.6 L602.8 501.2 L604.3 501.9 L605.8 502.5 L607.3 503.1 L608.8 503.8 L610.3 504.4 L611.7 505.1 L613.2 505.7 L614.7 506.4 L616.2 507.1 L617.7 507.8 L619.2 508.4 L620.7 509.1 L622.2 509.9 L623.7 510.6 L625.2 511.3 L626.7 512.0 L628.1 512.8 L629.6 513.5 L631.1 514.3 L632.6 515.0 L634.1 515.8 L635.6 516.6 L637.1 517.3 L638.6 518.1 L640.1 518.9 L641.6 519.7 L643.1 520.6 L644.5 521.4 L646.0 522.2 L647.5 523.0 L649.0 523.9 L650.5 524.7 L652.0 525.6 L653.5 526.5 L655.0 527.3 L656.5 528.2 L658.0 529.1 L659.5 530.0 L661.0 530.9 L662.4 531.8 L663.9 532.7 L665.4 533.6 L666.9 534.6 L668.4 535.5 L669.9 536.5 L671.4 537.4 L672.9 538.4 L674.4 539.3 L675.9 540.3 L677.4 541.3 L678.9 542.3 L680.4 543.3 L681.8 544.3 L683.3 545.3 L684.8 546.3 L686.3 547.4 L687.8 548.4 L689.3 549.4 L690.8 550.5 L692.3 551.5 L693.8 552.6 L695.3 553.7 L696.8 554.8 L698.3 555.9 L699.8 556.9 L701.3 558.1 L702.7 559.2 L704.2 560.3 L705.7 561.4 L707.2 562.5 L708.7 563.7 L710.2 564.8 L711.7 566.0 L713.2 567.1 L714.7 568.3 L716.2 569.5 L717.7 570.7 L719.2 571.9 L720.7 573.1 L722.2 574.3 L723.7 575.5 L725.2 576.7 L726.6 577.9 L728.1 579.2 L729.6 580.4 L731.1 581.7 L732.6 582.9 L734.1 584.2 L735.6 585.5 L737.1 586.8 L738.6 588.0 L740.1 589.3 L741.6 590.6 L743.1 592.0 L744.6 593.3 L746.1 594.6 L747.6 595.9 L749.1 597.3 L750.6 598.6 L752.1 600.0 L753.5 601.3 L755.0 602.7 L756.5 604.1 L758.0 605.5 L759.5 606.9 L761.0 608.3 L762.5 609.7 L764.0 611.1 L765.5 612.5 L767.0 613.9 L768.5 615.3 L770.0 616.8 L771.5 618.2 L773.0 619.7 L774.5 621.2 L776.0 622.6 L777.5 624.1 L779.0 625.6 L780.5 627.1 L782.0 628.6 L783.5 630.1 L785.0 631.6 L786.4 633.1 L787.9 634.6 L789.4 636.1 L790.9 637.7 L792.4 639.2 L793.9 640.8 L795.4 642.3 L796.9 643.9 L798.4 645.4 L799.9 647.0 L801.4 648.6 L802.9 650.2 L804.4 651.8 L805.9 653.4 L807.4 655.0 L808.9 656.6 L810.4 658.2 L811.9 659.8 L813.4 661.5 L814.9 663.1 L816.4 664.7 L817.9 666.4 L819.4 668.0 L820.9 669.7 L822.4 671.3 L823.9 673.0 L825.4 674.7 L826.9 676.4 L828.4 678.0 L829.9 679.7 L831.4 681.4 L832.8 683.1 L834.3 684.8 L835.8 686.5 L837.3 688.2 L838.8 690.0 L840.3 691.7 L841.8 693.4 L843.3 695.1 L844.8 696.9 L846.3 698.6 L847.8 700.4 L849.3 702.1 L850.8 703.9 L852.3 705.6 L853.8 707.4 L855.3 709.2 L856.8 710.9 L858.3 712.7 L859.8 714.5 L861.3 716.3 L862.8 718.1 L864.3 719.8 L865.8 721.6 L867.3 723.4 L868.8 725.2 L870.3 727.1 L871.8 728.9 L873.3 730.7 L874.8 732.5 L876.3 734.3 L877.8 736.1 L879.3 738.0 L880.8 739.8 L882.3 741.6 L883.8 743.5 L885.3 745.3 L886.8 747.1 L888.3 749.0 L889.8 750.8 L891.3 752.7 L892.8 754.5 L894.3 756.4 L895.8 758.3 L897.3 760.1 L898.8 762.0 L900.3 763.9 L901.8 765.7 L903.3 767.6 L904.8 769.5 L906.3 771.4 L907.8 773.3 L909.3 775.2 L910.8 777.0 L912.3 778.9 L913.8 780.8 L915.3 782.7 L916.8 784.6 L918.3 786.5 L919.8 788.4 L921.3 790.4 L922.8 792.3 L924.3 794.2 L925.8 796.1 L927.3 798.0 L928.7 799.9 L930.2 801.9 L931.7 803.8 L933.2 805.7 L934.7 807.6 L936.2 809.6 L937.7 811.5 L939.2 813.5 L940.7 815.4 L942.2 817.4 L943.7 819.3 L945.2 821.3 L946.7 823.2 L948.2 825.2 L949.7 827.1 L951.2 829.1 L952.7 831.0 L954.2 833.0 L955.7 835.0 L957.2 837.0 L958.7 838.9 L960.2 840.9 L961.7 842.9 L963.2 844.9 L964.7 846.9 L966.2 848.9 L967.7 850.9 L969.2 852.8 L970.7 854.8 L972.2 856.9 L973.7 858.9 L975.2 860.9 L976.7 862.9 L978.2 864.9 L979.7 866.9 L981.2 868.9 L982.7 871.0 L984.2 873.0 L985.7 875.0 L987.2 877.0 L988.7 879.1 L990.2 881.1 L991.7 883.2 L993.2 885.2 L994.7 887.3 L996.2 889.3 L997.7 891.4 L999.2 893.4 L1000.7 895.5 L1002.2 897.6 L1003.7 899.6 L1005.2 901.7 L1006.7 903.8 L1008.2 905.9 L1009.7 908.0 L1011.2 910.1 L1012.7 912.1 L1014.2 914.2 L1015.7 916.3 L1017.2 918.4 L1018.7 920.6 L1020.2 922.7 L1021.7 924.8 L1023.2 926.9 L1024.7 929.0 L1026.2 931.1 L1027.7 933.3 L1029.2 935.4 L1030.7 937.5 L1032.2 939.7 L1033.7 941.8 L1035.2 944.0 L1036.7 946.1 L1038.2 948.3 L1039.7 950.4 L1041.2 952.6 L1042.7 954.8 L1044.2 956.9 L1045.7 959.1 L1047.2 961.3 L1048.7 963.4 L1050.2 965.6 L1051.7 967.8 L1053.2 970.0 L1054.7 972.2 L1056.2 974.4 L1057.7 976.6 L1059.2 978.8 L1060.7 981.0 L1062.1 983.2 L1063.6 985.4 L1065.1 987.6 L1066.6 989.8 L1068.1 992.0 L1069.6 994.3 L1071.1 996.5 L1072.6 998.7 L1074.1 1000.9 L1075.6 1003.2 L1077.1 1005.4 L1078.6 1007.6 L1080.1 1009.9 L1081.6 1012.1 L1083.1 1014.4 L1084.6 1016.6 L1086.1 1018.9 L1087.6 1021.1 L1089.1 1023.4 L1090.6 1025.6 L1092.1 1027.9 L1093.6 1030.1 L1095.1 1032.4 L1096.6 1034.6 L1098.1 1036.9 L1099.6 1039.2 L1101.1 1041.4 L1102.6 1043.7 L1104.1 1046.0 L1105.6 1048.3 L1107.1 1050.5 L1108.6 1052.8 L1110.1 1055.1 L1111.6 1057.4 L1113.1 1059.6 L1114.6 1061.9 L1116.1 1064.2 L1117.6 1066.5 L1119.1 1068.8 L1120.6 1071.1 L1122.1 1073.3 L1123.6 1075.6 L1125.1 1077.9 L1126.6 1080.2 L1128.1 1082.5 L1129.6 1084.8 L1131.1 1087.1 L1132.6 1089.4 L1134.1 1091.7 L1135.6 1094.0 L1137.1 1096.3 L1138.6 1098.6 L1140.1 1100.9 L1141.6 1103.2 L1143.1 1105.5 L1144.6 1107.8 L1146.1 1110.1 L1147.6 1112.4 L1149.1 1114.7 L1150.6 1117.0 L1152.1 1119.3 L1153.6 1121.6 L1155.1 1123.9 L1156.6 1126.2 L1158.1 1128.5 L1159.6 1130.8 L1161.1 1133.1 L1162.6 1135.4 L1164.1 1137.8 L1165.6 1140.1 L1167.1 1142.4 L1168.6 1144.7 L1170.1 1147.0 L1171.6 1149.3 L1173.1 1151.6 L1174.6 1154.0 L1176.1 1156.3 L1177.6 1158.6 L1179.1 1160.9 L1180.6 1163.2 L1182.1 1165.5 L1183.6 1167.9 L1185.1 1170.2 L1186.6 1172.5 L1188.1 1174.8 L1189.6 1177.1 L1191.1 1179.5 L1192.6 1181.8 L1194.1 1184.1 L1195.6 1186.4 L1197.1 1188.8 L1198.6 1191.1 L1200.1 1193.4 L1201.6 1195.7 L1203.1 1198.0 L1204.6 1200.4 L1206.1 1202.7 L1207.6 1205.0 L1209.1 1207.3 L1210.6 1209.7 L1212.1 1212.0 L1213.6 1214.3 L1215.1 1216.6 L1216.6 1219.0 L1218.1 1221.3 L1219.6 1223.6 L1221.1 1225.9 L1222.6 1228.3 L1224.1 1230.6 L1225.6 1232.9 L1227.1 1235.2 L1228.6 1237.6 L1230.1 1239.9 L1231.6 1242.2 L1233.1 1244.5 L1234.6 1246.9 L1236.1 1249.2 L1237.6 1251.5 L1239.1 1253.8 L1240.6 1256.2 L1242.1 1258.5 L1243.6 1260.8 L1245.1 1263.1 L1246.6 1265.5 L1248.1 1267.8 L1249.6 1270.1 L1251.1 1272.5 L1252.6 1274.8 L1254.1 1277.1 L1255.6 1279.4 L1257.1 1281.8 L1258.6 1284.1 L1260.1 1286.4 L1261.6 1288.7 L1263.1 1291.1 L1264.6 1293.4 L1266.1 1295.7 L1267.6 1298.0 L1269.1 1300.4 L1270.6 1302.7 L1272.1 1305.0 L1273.6 1307.3 L1275.1 1309.7 L1276.6 1312.0 L1278.1 1314.3 L1279.6 1316.6 L1281.1 1319.0 L1282.6 1321.3 L1284.1 1323.6 L1285.6 1325.9 L1287.1 1328.3 L1288.6 1330.6 L1290.1 1332.9 L1291.6 1335.2 L1293.1 1337.6 L1294.6 1339.9 L1296.1 1342.2 L1297.6 1344.5 L1299.1 1346.9 L1300.6 1349.2 L1302.1 1351.5 L1303.6 1353.8 L1305.1 1356.2 L1306.6 1358.5 L1308.1 1360.8 L1309.6 1363.1 L1311.1 1365.5 L1312.6 1367.8 L1314.1 1370.1 L1315.6 1372.4 L1317.1 1374.8 L1318.6 1377.1 L1320.1 1379.4 L1321.6 1381.7 L1323.1 1384.1 L1324.6 1386.4 L1325.8 1388.3 L1333.8 1400.7 L1338.2 1397.8 L1330.2 1385.4 L1329.0 1383.6 L1327.5 1381.2 L1326.0 1378.9 L1324.5 1376.6 L1323.0 1374.3 L1321.5 1371.9 L1320.0 1369.6 L1318.5 1367.3 L1317.0 1365.0 L1315.5 1362.6 L1314.0 1360.3 L1312.5 1358.0 L1311.0 1355.7 L1309.5 1353.3 L1308.0 1351.0 L1306.5 1348.7 L1305.0 1346.4 L1303.5 1344.0 L1302.0 1341.7 L1300.5 1339.4 L1299.0 1337.1 L1297.5 1334.7 L1296.0 1332.4 L1294.5 1330.1 L1293.0 1327.8 L1291.5 1325.4 L1290.0 1323.1 L1288.5 1320.8 L1287.0 1318.5 L1285.5 1316.1 L1284.0 1313.8 L1282.5 1311.5 L1281.0 1309.2 L1279.5 1306.8 L1278.0 1304.5 L1276.5 1302.2 L1275.0 1299.9 L1273.5 1297.5 L1272.0 1295.2 L1270.5 1292.9 L1269.0 1290.6 L1267.5 1288.2 L1266.0 1285.9 L1264.5 1283.6 L1263.0 1281.3 L1261.5 1278.9 L1260.0 1276.6 L1258.5 1274.3 L1257.0 1272.0 L1255.5 1269.6 L1254.0 1267.3 L1252.5 1265.0 L1251.0 1262.7 L1249.5 1260.3 L1248.0 1258.0 L1246.5 1255.7 L1245.0 1253.4 L1243.5 1251.0 L1242.0 1248.7 L1240.5 1246.4 L1239.0 1244.1 L1237.5 1241.7 L1236.0 1239.4 L1234.5 1237.1 L1233.0 1234.8 L1231.5 1232.4 L1230.0 1230.1 L1228.5 1227.8 L1227.0 1225.5 L1225.5 1223.1 L1224.0 1220.8 L1222.5 1218.5 L1221.0 1216.1 L1219.5 1213.8 L1218.0 1211.5 L1216.5 1209.2 L1215.0 1206.8 L1213.5 1204.5 L1212.0 1202.2 L1210.5 1199.9 L1209.0 1197.6 L1207.5 1195.2 L1206.0 1192.9 L1204.5 1190.6 L1203.0 1188.3 L1201.5 1185.9 L1200.0 1183.6 L1198.5 1181.3 L1197.0 1179.0 L1195.5 1176.6 L1194.0 1174.3 L1192.5 1172.0 L1191.0 1169.7 L1189.5 1167.4 L1188.0 1165.0 L1186.5 1162.7 L1185.0 1160.4 L1183.5 1158.1 L1182.0 1155.8 L1180.5 1153.4 L1179.0 1151.1 L1177.5 1148.8 L1176.0 1146.5 L1174.5 1144.2 L1173.0 1141.9 L1171.5 1139.5 L1170.0 1137.2 L1168.5 1134.9 L1167.0 1132.6 L1165.5 1130.3 L1164.0 1128.0 L1162.5 1125.7 L1161.0 1123.4 L1159.5 1121.1 L1158.0 1118.8 L1156.5 1116.4 L1155.0 1114.1 L1153.5 1111.8 L1152.0 1109.5 L1150.5 1107.2 L1149.0 1104.9 L1147.5 1102.6 L1146.0 1100.3 L1144.5 1098.0 L1143.0 1095.7 L1141.5 1093.4 L1140.0 1091.1 L1138.5 1088.8 L1137.0 1086.5 L1135.5 1084.2 L1134.0 1081.9 L1132.5 1079.6 L1131.0 1077.4 L1129.5 1075.1 L1128.0 1072.8 L1126.5 1070.5 L1125.0 1068.2 L1123.5 1065.9 L1122.0 1063.6 L1120.5 1061.3 L1119.0 1059.1 L1117.5 1056.8 L1116.0 1054.5 L1114.5 1052.2 L1113.0 1049.9 L1111.5 1047.7 L1110.0 1045.4 L1108.5 1043.1 L1107.0 1040.8 L1105.5 1038.6 L1104.0 1036.3 L1102.5 1034.0 L1101.0 1031.8 L1099.5 1029.5 L1098.0 1027.3 L1096.5 1025.0 L1095.0 1022.7 L1093.5 1020.5 L1092.0 1018.2 L1090.5 1016.0 L1089.0 1013.7 L1087.5 1011.5 L1086.0 1009.2 L1084.5 1007.0 L1083.0 1004.7 L1081.5 1002.5 L1080.0 1000.3 L1078.5 998.0 L1077.0 995.8 L1075.5 993.6 L1074.0 991.4 L1072.5 989.1 L1071.0 986.9 L1069.5 984.7 L1068.0 982.5 L1066.5 980.3 L1064.9 978.1 L1063.4 975.9 L1061.9 973.7 L1060.4 971.5 L1058.9 969.3 L1057.4 967.1 L1055.9 964.9 L1054.4 962.7 L1052.9 960.5 L1051.4 958.3 L1049.9 956.1 L1048.4 954.0 L1046.9 951.8 L1045.4 949.6 L1043.9 947.5 L1042.4 945.3 L1040.9 943.2 L1039.4 941.0 L1037.9 938.8 L1036.4 936.7 L1034.9 934.6 L1033.4 932.4 L1031.9 930.3 L1030.4 928.2 L1028.9 926.0 L1027.4 923.9 L1025.9 921.8 L1024.4 919.7 L1022.9 917.5 L1021.4 915.4 L1019.9 913.3 L1018.4 911.2 L1016.9 909.1 L1015.4 907.0 L1013.9 904.9 L1012.4 902.8 L1010.9 900.8 L1009.4 898.7 L1007.9 896.6 L1006.4 894.5 L1004.9 892.5 L1003.4 890.4 L1001.9 888.3 L1000.4 886.3 L998.9 884.2 L997.4 882.1 L995.9 880.1 L994.4 878.0 L992.9 876.0 L991.4 874.0 L989.9 871.9 L988.4 869.9 L986.9 867.9 L985.4 865.8 L983.9 863.8 L982.4 861.8 L980.9 859.8 L979.4 857.8 L977.9 855.7 L976.4 853.7 L974.9 851.7 L973.4 849.7 L971.9 847.7 L970.4 845.7 L968.9 843.7 L967.4 841.7 L965.9 839.8 L964.4 837.8 L962.9 835.8 L961.4 833.8 L959.9 831.8 L958.4 829.9 L956.9 827.9 L955.4 825.9 L953.9 824.0 L952.4 822.0 L950.9 820.0 L949.4 818.1 L947.9 816.1 L946.4 814.2 L944.9 812.2 L943.4 810.3 L941.9 808.3 L940.4 806.4 L938.9 804.5 L937.4 802.5 L935.9 800.6 L934.4 798.7 L932.9 796.7 L931.3 794.8 L929.8 792.9 L928.3 791.0 L926.8 789.1 L925.3 787.1 L923.8 785.2 L922.3 783.3 L920.8 781.4 L919.3 779.5 L917.8 777.6 L916.3 775.7 L914.8 773.8 L913.3 771.9 L911.8 770.0 L910.3 768.1 L908.8 766.3 L907.3 764.4 L905.8 762.5 L904.3 760.6 L902.8 758.7 L901.3 756.9 L899.8 755.0 L898.3 753.1 L896.8 751.3 L895.3 749.4 L893.8 747.6 L892.3 745.7 L890.8 743.9 L889.3 742.0 L887.8 740.2 L886.3 738.3 L884.8 736.5 L883.3 734.7 L881.8 732.8 L880.3 731.0 L878.8 729.2 L877.3 727.4 L875.8 725.5 L874.3 723.7 L872.8 721.9 L871.3 720.1 L869.8 718.3 L868.3 716.5 L866.8 714.7 L865.3 712.9 L863.8 711.1 L862.3 709.4 L860.8 707.6 L859.3 705.8 L857.8 704.0 L856.3 702.3 L854.8 700.5 L853.3 698.7 L851.8 697.0 L850.3 695.2 L848.8 693.5 L847.3 691.7 L845.8 690.0 L844.3 688.3 L842.8 686.5 L841.3 684.8 L839.8 683.1 L838.3 681.4 L836.8 679.7 L835.2 678.0 L833.7 676.3 L832.2 674.6 L830.7 672.9 L829.2 671.2 L827.7 669.5 L826.2 667.9 L824.7 666.2 L823.2 664.5 L821.7 662.9 L820.2 661.2 L818.7 659.6 L817.2 657.9 L815.7 656.3 L814.2 654.7 L812.7 653.1 L811.2 651.4 L809.7 649.8 L808.2 648.2 L806.7 646.6 L805.2 645.0 L803.7 643.4 L802.2 641.9 L800.7 640.3 L799.2 638.7 L797.7 637.2 L796.2 635.6 L794.7 634.1 L793.2 632.5 L791.7 631.0 L790.2 629.4 L788.6 627.9 L787.1 626.4 L785.6 624.9 L784.1 623.4 L782.6 621.9 L781.1 620.4 L779.6 618.9 L778.1 617.4 L776.6 616.0 L775.1 614.5 L773.6 613.0 L772.1 611.6 L770.6 610.2 L769.1 608.7 L767.6 607.3 L766.1 605.9 L764.6 604.5 L763.1 603.1 L761.6 601.7 L760.1 600.3 L758.6 598.9 L757.1 597.5 L755.5 596.1 L754.0 594.8 L752.5 593.4 L751.0 592.1 L749.5 590.7 L748.0 589.4 L746.5 588.0 L745.0 586.7 L743.5 585.4 L742.0 584.1 L740.5 582.8 L739.0 581.5 L737.5 580.2 L736.0 579.0 L734.5 577.7 L733.0 576.4 L731.5 575.2 L730.0 573.9 L728.4 572.7 L726.9 571.5 L725.4 570.2 L723.9 569.0 L722.4 567.8 L720.9 566.6 L719.4 565.4 L717.9 564.2 L716.4 563.0 L714.9 561.9 L713.4 560.7 L711.9 559.5 L710.4 558.4 L708.9 557.3 L707.4 556.1 L705.9 555.0 L704.3 553.9 L702.8 552.8 L701.3 551.7 L699.8 550.6 L698.3 549.5 L696.8 548.4 L695.3 547.3 L693.8 546.2 L692.3 545.2 L690.8 544.1 L689.3 543.1 L687.8 542.0 L686.3 541.0 L684.8 540.0 L683.2 539.0 L681.7 538.0 L680.2 537.0 L678.7 536.0 L677.2 535.0 L675.7 534.0 L674.2 533.0 L672.7 532.1 L671.2 531.1 L669.7 530.2 L668.2 529.2 L666.7 528.3 L665.2 527.4 L663.6 526.4 L662.1 525.5 L660.6 524.6 L659.1 523.7 L657.6 522.8 L656.1 522.0 L654.6 521.1 L653.1 520.2 L651.6 519.4 L650.1 518.5 L648.6 517.7 L647.1 516.8 L645.5 516.0 L644.0 515.2 L642.5 514.4 L641.0 513.6 L639.5 512.8 L638.0 512.0 L636.5 511.2 L635.0 510.4 L633.5 509.6 L632.0 508.9 L630.5 508.1 L628.9 507.4 L627.4 506.6 L625.9 505.9 L624.4 505.2 L622.9 504.4 L621.4 503.7 L619.9 503.0 L618.4 502.3 L616.9 501.7 L615.4 501.0 L613.9 500.3 L612.3 499.6 L610.8 499.0 L609.3 498.3 L607.8 497.7 L606.3 497.1 L604.8 496.4 L603.3 495.8 L601.8 495.2 L600.3 494.6 L598.7 494.0 L597.2 493.4 L595.7 492.8 L594.2 492.3 L592.7 491.7 L591.2 491.1 L589.7 490.6 L588.2 490.1 L586.7 489.5 L585.1 489.0 L583.6 488.5 L582.1 488.0 L580.6 487.4 L579.1 486.9 L577.6 486.5 L576.1 486.0 L574.6 485.5 L573.1 485.0 L571.6 484.6 L570.1 484.1 L568.5 483.6 L567.0 483.2 L565.5 482.8 L564.0 482.3 L562.5 481.9 L561.0 481.5 L559.5 481.1 L558.0 480.7 L556.5 480.3 L554.9 480.0 L553.4 479.6 L551.9 479.2 L550.4 478.9 L548.9 478.5 L547.4 478.2 L545.9 477.8 L544.4 477.5 L542.9 477.2 L541.4 476.8 L539.8 476.5 L538.3 476.2 L536.8 475.9 L535.3 475.6 L533.8 475.4 L532.3 475.1 L530.8 474.8 L529.3 474.6 L527.8 474.3 L526.2 474.1 L524.7 473.8 L523.2 473.6 L521.7 473.3 L520.2 473.1 L518.7 472.9 L517.2 472.7 L515.7 472.5 L514.2 472.3 L512.7 472.1 L511.1 471.9 L509.6 471.7 L508.1 471.5 L506.6 471.4 L505.1 471.2 L503.6 471.0 L502.1 470.9 L500.6 470.7 L499.1 470.6 L497.6 470.4 L496.1 470.3 L494.5 470.2 L493.0 470.1 L491.5 469.9 L490.0 469.8 L488.5 469.7 L487.0 469.6 L485.5 469.5 L484.0 469.4 L482.5 469.3 L481.0 469.2 L479.5 469.1 L478.0 469.0 L476.4 468.9 L474.9 468.9 L473.4 468.8 L471.9 468.7 L470.4 468.6 L468.9 468.6 L467.4 468.5 L465.9 468.5 L464.4 468.4 L462.9 468.4 L461.4 468.3 L459.9 468.3 L458.4 468.2 L456.9 468.2 L455.4 468.1 L453.9 468.1 L452.4 468.0 L450.9 468.0 L449.4 468.0 L447.9 467.9 L446.3 467.9 L444.8 467.9 L443.3 467.9 L441.8 467.8 L440.3 467.8 L438.8 467.8 L437.3 467.8 L435.8 467.7 L434.3 467.7 L432.8 467.7 L431.3 467.7 L429.8 467.7 L428.3 467.7 L426.8 467.6 L425.3 467.6 L423.8 467.6 L422.3 467.6 L420.8 467.6 L419.3 467.6 L417.8 467.6 L416.3 467.6 L414.8 467.6 L413.3 467.6 L411.8 467.6 L410.3 467.6 L408.8 467.6 L407.3 467.6 L405.8 467.6 L404.3 467.6 L402.8 467.6 L401.3 467.6 L399.8 467.6 L398.3 467.6 L396.8 467.6 L395.3 467.6 L393.8 467.6 L392.3 467.6 L390.8 467.6 L389.3 467.6 L387.8 467.6 L386.3 467.6 L384.8 467.6 L383.3 467.6 L381.8 467.6 L380.3 467.6 L378.8 467.6 L377.3 467.6 L375.8 467.6 L374.3 467.6 L372.8 467.6 L371.3 467.6 L369.8 467.6 L368.3 467.6 L366.8 467.6 L365.3 467.6 L363.8 467.6 L362.3 467.6Z"/>
<path d="M378.5 696.4 L380.0 696.4 L381.5 696.4 L383.0 696.4 L384.5 696.4 L386.0 696.4 L387.5 696.4 L389.0 696.4 L390.5 696.4 L392.0 696.4 L393.5 696.4 L395.0 696.4 L396.5 696.4 L398.0 696.4 L399.5 696.4 L401.0 696.4 L402.5 696.4 L404.0 696.4 L405.5 696.4 L407.0 696.4 L408.5 696.4 L410.0 696.4 L411.5 696.4 L413.0 696.4 L414.5 696.4 L416.0 696.4 L417.5 696.4 L419.0 696.4 L420.5 696.4 L422.0 696.4 L423.5 696.4 L425.0 696.4 L426.5 696.5 L428.0 696.5 L429.5 696.5 L431.0 696.5 L432.5 696.5 L434.0 696.5 L435.5 696.5 L437.0 696.5 L438.5 696.5 L440.0 696.5 L441.5 696.5 L443.0 696.5 L444.5 696.5 L446.0 696.5 L447.5 696.5 L449.0 696.5 L450.5 696.5 L452.0 696.5 L453.5 696.5 L455.0 696.5 L456.5 696.5 L458.0 696.6 L459.5 696.6 L461.0 696.6 L462.5 696.6 L464.0 696.6 L465.5 696.6 L467.0 696.6 L468.5 696.6 L470.0 696.6 L471.5 696.6 L473.0 696.6 L474.5 696.6 L476.0 696.7 L477.5 696.7 L479.0 696.7 L480.5 696.7 L482.0 696.7 L483.5 696.7 L485.0 696.7 L486.5 696.8 L488.0 696.8 L489.4 696.8 L490.9 696.8 L492.4 696.8 L493.9 696.9 L495.4 696.9 L496.9 696.9 L498.4 696.9 L499.9 696.9 L501.4 697.0 L502.9 697.0 L504.4 697.0 L505.9 697.0 L507.4 697.1 L508.9 697.1 L510.4 697.1 L511.9 697.2 L513.4 697.2 L514.9 697.2 L516.4 697.3 L517.9 697.3 L519.4 697.3 L520.9 697.4 L522.4 697.4 L523.9 697.5 L525.4 697.5 L526.9 697.5 L528.4 697.6 L529.9 697.6 L531.4 697.7 L532.9 697.7 L534.4 697.8 L535.9 697.8 L537.4 697.9 L538.9 697.9 L540.4 698.0 L541.9 698.0 L543.4 698.1 L544.9 698.2 L546.4 698.2 L547.9 698.3 L549.4 698.3 L550.9 698.4 L552.4 698.5 L553.9 698.5 L555.4 698.6 L556.9 698.7 L558.3 698.8 L559.8 698.8 L561.3 698.9 L562.8 699.0 L564.3 699.1 L565.8 699.2 L567.3 699.3 L568.8 699.3 L570.3 699.4 L571.8 699.5 L573.3 699.6 L574.8 699.7 L576.3 699.8 L577.8 699.9 L579.3 700.0 L580.8 700.1 L582.3 700.2 L583.8 700.3 L585.3 700.5 L586.8 700.6 L588.3 700.7 L589.8 700.8 L591.3 700.9 L592.8 701.1 L594.3 701.2 L595.8 701.3 L597.3 701.4 L598.8 701.6 L600.2 701.7 L601.7 701.9 L603.2 702.0 L604.7 702.2 L606.2 702.3 L607.7 702.5 L609.2 702.6 L610.7 702.8 L612.2 703.0 L613.7 703.1 L615.2 703.3 L616.7 703.5 L618.2 703.7 L619.7 703.8 L621.2 704.0 L622.7 704.2 L624.2 704.4 L625.7 704.6 L627.2 704.8 L628.7 705.0 L630.1 705.2 L631.6 705.4 L633.1 705.6 L634.6 705.8 L636.1 706.1 L637.6 706.3 L639.1 706.5 L640.6 706.7 L642.1 707.0 L643.6 707.2 L645.1 707.4 L646.6 707.7 L648.1 707.9 L649.6 708.2 L651.1 708.4 L652.6 708.7 L654.1 708.9 L655.5 709.2 L657.0 709.5 L658.5 709.7 L660.0 710.0 L661.5 710.3 L663.0 710.6 L664.5 710.9 L666.0 711.1 L667.5 711.4 L669.0 711.7 L670.5 712.0 L672.0 712.3 L673.5 712.7 L675.0 713.0 L676.5 713.3 L677.9 713.6 L679.4 713.9 L680.9 714.3 L682.4 714.6 L683.9 715.0 L685.4 715.3 L686.9 715.7 L688.4 716.0 L689.9 716.4 L691.4 716.7 L692.9 717.1 L694.4 717.5 L695.9 717.9 L697.3 718.2 L698.8 718.6 L700.3 719.0 L701.8 719.4 L703.3 719.8 L704.8 720.2 L706.3 720.6 L707.8 721.1 L709.3 721.5 L710.8 721.9 L712.3 722.3 L713.8 722.8 L715.3 723.2 L716.7 723.7 L718.2 724.1 L719.7 724.6 L721.2 725.1 L722.7 725.5 L724.2 726.0 L725.7 726.5 L727.2 727.0 L728.7 727.5 L730.2 728.0 L731.7 728.5 L733.2 729.0 L734.6 729.5 L736.1 730.0 L737.6 730.5 L739.1 731.1 L740.6 731.6 L742.1 732.2 L743.6 732.7 L745.1 733.3 L746.6 733.8 L748.1 734.4 L749.6 735.0 L751.0 735.6 L752.5 736.2 L754.0 736.8 L755.5 737.4 L757.0 738.0 L758.5 738.6 L760.0 739.2 L761.5 739.8 L763.0 740.5 L764.5 741.1 L766.0 741.8 L767.4 742.4 L768.9 743.1 L770.4 743.7 L771.9 744.4 L773.4 745.1 L774.9 745.8 L776.4 746.5 L777.9 747.2 L779.4 747.9 L780.9 748.6 L782.4 749.3 L783.8 750.1 L785.3 750.8 L786.8 751.6 L788.3 752.3 L789.8 753.1 L791.3 753.8 L792.8 754.6 L794.3 755.4 L795.8 756.2 L797.3 757.0 L798.8 757.8 L800.2 758.6 L801.7 759.4 L803.2 760.3 L804.7 761.1 L806.2 761.9 L807.7 762.8 L809.2 763.7 L810.7 764.5 L812.2 765.4 L813.7 766.3 L815.2 767.2 L816.7 768.1 L818.1 769.0 L819.6 769.9 L821.1 770.8 L822.6 771.7 L824.1 772.7 L825.6 773.6 L827.1 774.6 L828.6 775.5 L830.1 776.5 L831.6 777.5 L833.1 778.5 L834.6 779.5 L836.0 780.5 L837.5 781.5 L839.0 782.5 L840.5 783.5 L842.0 784.5 L843.5 785.6 L845.0 786.6 L846.5 787.7 L848.0 788.7 L849.5 789.8 L851.0 790.9 L852.5 792.0 L854.0 793.1 L855.5 794.2 L856.9 795.3 L858.4 796.4 L859.9 797.5 L861.4 798.7 L862.9 799.8 L864.4 800.9 L865.9 802.1 L867.4 803.2 L868.9 804.4 L870.4 805.6 L871.9 806.8 L873.4 808.0 L874.9 809.2 L876.4 810.4 L877.9 811.6 L879.4 812.8 L880.9 814.0 L882.3 815.2 L883.8 816.5 L885.3 817.7 L886.8 819.0 L888.3 820.2 L889.8 821.5 L891.3 822.8 L892.8 824.0 L894.3 825.3 L895.8 826.6 L897.3 827.9 L898.8 829.2 L900.3 830.5 L901.8 831.8 L903.3 833.2 L904.8 834.5 L906.3 835.8 L907.8 837.2 L909.3 838.5 L910.8 839.9 L912.2 841.2 L913.7 842.6 L915.2 844.0 L916.7 845.3 L918.2 846.7 L919.7 848.1 L921.2 849.5 L922.7 850.9 L924.2 852.3 L925.7 853.7 L927.2 855.2 L928.7 856.6 L930.2 858.0 L931.7 859.4 L933.2 860.9 L934.7 862.3 L936.2 863.8 L937.7 865.3 L939.2 866.7 L940.7 868.2 L942.2 869.7 L943.7 871.2 L945.2 872.6 L946.7 874.1 L948.2 875.6 L949.7 877.2 L951.1 878.7 L952.6 880.2 L954.1 881.7 L955.6 883.2 L957.1 884.8 L958.6 886.3 L960.1 887.9 L961.6 889.4 L963.1 891.0 L964.6 892.6 L966.1 894.1 L967.6 895.7 L969.1 897.3 L970.6 898.9 L972.1 900.5 L973.6 902.1 L975.1 903.7 L976.6 905.3 L978.1 906.9 L979.6 908.6 L981.1 910.2 L982.6 911.8 L984.1 913.5 L985.6 915.1 L987.1 916.8 L988.6 918.4 L990.1 920.1 L991.6 921.8 L993.1 923.5 L994.6 925.2 L996.0 926.9 L997.5 928.6 L999.0 930.3 L1000.5 932.0 L1002.0 933.7 L1003.5 935.4 L1005.0 937.2 L1006.5 938.9 L1008.0 940.7 L1009.5 942.4 L1011.0 944.2 L1012.5 945.9 L1014.0 947.7 L1015.5 949.5 L1017.0 951.3 L1018.5 953.0 L1020.0 954.8 L1021.5 956.6 L1023.0 958.5 L1024.5 960.3 L1026.0 962.1 L1027.5 963.9 L1029.0 965.8 L1030.5 967.6 L1032.0 969.4 L1033.5 971.3 L1035.0 973.1 L1036.5 975.0 L1038.0 976.9 L1039.5 978.7 L1041.0 980.6 L1042.5 982.5 L1044.0 984.4 L1045.5 986.3 L1047.0 988.2 L1048.5 990.1 L1050.0 992.0 L1051.4 994.0 L1052.9 995.9 L1054.4 997.8 L1055.9 999.8 L1057.4 1001.7 L1058.9 1003.6 L1060.4 1005.6 L1061.9 1007.6 L1063.4 1009.5 L1064.9 1011.5 L1066.4 1013.5 L1067.9 1015.4 L1069.4 1017.4 L1070.9 1019.4 L1072.4 1021.4 L1073.9 1023.4 L1075.4 1025.4 L1076.9 1027.4 L1078.4 1029.4 L1079.9 1031.4 L1081.4 1033.5 L1082.9 1035.5 L1084.4 1037.5 L1085.9 1039.5 L1087.4 1041.6 L1088.9 1043.6 L1090.4 1045.7 L1091.9 1047.7 L1093.4 1049.8 L1094.9 1051.8 L1096.4 1053.9 L1097.9 1056.0 L1099.4 1058.0 L1100.9 1060.1 L1102.4 1062.2 L1103.9 1064.3 L1105.4 1066.3 L1106.9 1068.4 L1108.4 1070.5 L1109.9 1072.6 L1111.4 1074.7 L1112.9 1076.8 L1114.4 1078.9 L1115.9 1081.0 L1117.4 1083.1 L1118.9 1085.2 L1120.4 1087.4 L1121.9 1089.5 L1123.4 1091.6 L1124.9 1093.7 L1126.4 1095.9 L1127.9 1098.0 L1129.4 1100.1 L1130.9 1102.3 L1132.4 1104.4 L1133.9 1106.6 L1135.4 1108.7 L1136.9 1110.9 L1138.4 1113.0 L1139.9 1115.2 L1141.4 1117.3 L1142.9 1119.5 L1144.4 1121.7 L1145.9 1123.8 L1147.4 1126.0 L1148.9 1128.2 L1150.4 1130.3 L1151.9 1132.5 L1153.4 1134.7 L1154.9 1136.9 L1156.4 1139.1 L1157.9 1141.3 L1159.4 1143.5 L1160.9 1145.7 L1162.4 1147.9 L1163.9 1150.1 L1165.3 1152.3 L1166.8 1154.5 L1168.3 1156.7 L1169.8 1158.9 L1171.3 1161.1 L1172.8 1163.3 L1174.3 1165.6 L1175.8 1167.8 L1177.3 1170.0 L1178.8 1172.2 L1180.3 1174.5 L1181.8 1176.7 L1183.3 1178.9 L1184.8 1181.2 L1186.3 1183.4 L1187.8 1185.7 L1189.3 1187.9 L1190.8 1190.1 L1192.3 1192.4 L1193.8 1194.6 L1195.3 1196.9 L1196.8 1199.2 L1198.3 1201.4 L1199.8 1203.7 L1201.3 1205.9 L1202.8 1208.2 L1204.3 1210.5 L1205.8 1212.7 L1207.3 1215.0 L1208.8 1217.3 L1210.3 1219.6 L1211.8 1221.8 L1213.3 1224.1 L1214.8 1226.4 L1216.3 1228.7 L1217.8 1231.0 L1219.3 1233.2 L1220.8 1235.5 L1222.3 1237.8 L1223.8 1240.1 L1225.3 1242.4 L1226.8 1244.7 L1228.3 1247.0 L1229.8 1249.3 L1231.3 1251.6 L1232.8 1253.9 L1234.3 1256.2 L1235.8 1258.5 L1237.3 1260.8 L1238.8 1263.1 L1240.3 1265.4 L1241.8 1267.7 L1243.3 1270.0 L1244.8 1272.3 L1246.3 1274.7 L1247.8 1277.0 L1249.3 1279.3 L1250.8 1281.6 L1252.3 1283.9 L1253.8 1286.2 L1255.3 1288.6 L1256.8 1290.9 L1258.3 1293.2 L1259.8 1295.5 L1261.3 1297.9 L1262.8 1300.2 L1264.3 1302.5 L1265.8 1304.9 L1267.3 1307.2 L1268.8 1309.5 L1270.3 1311.9 L1271.8 1314.2 L1273.3 1316.6 L1274.8 1318.9 L1276.3 1321.3 L1277.8 1323.6 L1279.3 1325.9 L1280.8 1328.3 L1282.3 1330.7 L1283.8 1333.0 L1285.3 1335.4 L1286.8 1337.7 L1288.3 1340.1 L1289.8 1342.4 L1291.3 1344.8 L1292.8 1347.2 L1294.3 1349.5 L1295.8 1351.9 L1297.3 1354.3 L1298.8 1356.6 L1300.3 1359.0 L1301.8 1361.4 L1303.3 1363.8 L1304.8 1366.1 L1306.3 1368.5 L1307.8 1370.9 L1309.3 1373.3 L1310.8 1375.7 L1312.3 1378.1 L1313.8 1380.5 L1315.3 1382.8 L1316.8 1385.2 L1318.3 1387.6 L1319.8 1390.0 L1321.3 1392.4 L1322.8 1394.8 L1324.3 1397.2 L1325.8 1399.6 L1333.8 1412.5 L1338.2 1409.7 L1330.2 1396.9 L1328.7 1394.5 L1327.2 1392.1 L1325.7 1389.7 L1324.2 1387.3 L1322.7 1384.9 L1321.2 1382.5 L1319.7 1380.1 L1318.2 1377.7 L1316.7 1375.3 L1315.2 1372.9 L1313.7 1370.5 L1312.2 1368.1 L1310.7 1365.8 L1309.2 1363.4 L1307.7 1361.0 L1306.2 1358.6 L1304.7 1356.2 L1303.2 1353.9 L1301.7 1351.5 L1300.2 1349.1 L1298.7 1346.8 L1297.2 1344.4 L1295.7 1342.0 L1294.2 1339.7 L1292.7 1337.3 L1291.2 1334.9 L1289.7 1332.6 L1288.2 1330.2 L1286.7 1327.9 L1285.2 1325.5 L1283.7 1323.2 L1282.2 1320.8 L1280.7 1318.5 L1279.2 1316.1 L1277.7 1313.8 L1276.2 1311.4 L1274.7 1309.1 L1273.2 1306.7 L1271.7 1304.4 L1270.2 1302.1 L1268.7 1299.7 L1267.2 1297.4 L1265.7 1295.1 L1264.2 1292.7 L1262.7 1290.4 L1261.2 1288.1 L1259.7 1285.7 L1258.2 1283.4 L1256.7 1281.1 L1255.2 1278.8 L1253.7 1276.5 L1252.2 1274.1 L1250.7 1271.8 L1249.2 1269.5 L1247.7 1267.2 L1246.2 1264.9 L1244.7 1262.6 L1243.2 1260.3 L1241.7 1258.0 L1240.2 1255.6 L1238.7 1253.3 L1237.2 1251.0 L1235.7 1248.7 L1234.2 1246.4 L1232.7 1244.1 L1231.2 1241.8 L1229.7 1239.5 L1228.2 1237.3 L1226.7 1235.0 L1225.2 1232.7 L1223.7 1230.4 L1222.2 1228.1 L1220.7 1225.8 L1219.2 1223.5 L1217.7 1221.2 L1216.2 1219.0 L1214.7 1216.7 L1213.2 1214.4 L1211.7 1212.1 L1210.2 1209.9 L1208.7 1207.6 L1207.2 1205.3 L1205.7 1203.1 L1204.2 1200.8 L1202.7 1198.5 L1201.2 1196.3 L1199.7 1194.0 L1198.2 1191.8 L1196.7 1189.5 L1195.2 1187.3 L1193.7 1185.0 L1192.2 1182.8 L1190.7 1180.5 L1189.2 1178.3 L1187.7 1176.0 L1186.2 1173.8 L1184.7 1171.6 L1183.2 1169.3 L1181.7 1167.1 L1180.2 1164.9 L1178.7 1162.6 L1177.2 1160.4 L1175.7 1158.2 L1174.2 1156.0 L1172.7 1153.8 L1171.2 1151.6 L1169.7 1149.3 L1168.1 1147.1 L1166.6 1144.9 L1165.1 1142.7 L1163.6 1140.5 L1162.1 1138.3 L1160.6 1136.1 L1159.1 1134.0 L1157.6 1131.8 L1156.1 1129.6 L1154.6 1127.4 L1153.1 1125.2 L1151.6 1123.0 L1150.1 1120.9 L1148.6 1118.7 L1147.1 1116.5 L1145.6 1114.4 L1144.1 1112.2 L1142.6 1110.0 L1141.1 1107.9 L1139.6 1105.7 L1138.1 1103.6 L1136.6 1101.4 L1135.1 1099.3 L1133.6 1097.1 L1132.1 1095.0 L1130.6 1092.9 L1129.1 1090.7 L1127.6 1088.6 L1126.1 1086.5 L1124.6 1084.4 L1123.1 1082.2 L1121.6 1080.1 L1120.1 1078.0 L1118.6 1075.9 L1117.1 1073.8 L1115.6 1071.7 L1114.1 1069.6 L1112.6 1067.5 L1111.1 1065.4 L1109.6 1063.3 L1108.1 1061.2 L1106.6 1059.1 L1105.1 1057.1 L1103.6 1055.0 L1102.1 1052.9 L1100.6 1050.8 L1099.1 1048.8 L1097.6 1046.7 L1096.1 1044.6 L1094.6 1042.6 L1093.1 1040.5 L1091.6 1038.5 L1090.1 1036.5 L1088.6 1034.4 L1087.1 1032.4 L1085.6 1030.4 L1084.1 1028.3 L1082.6 1026.3 L1081.1 1024.3 L1079.6 1022.3 L1078.1 1020.3 L1076.6 1018.3 L1075.1 1016.3 L1073.6 1014.3 L1072.1 1012.3 L1070.6 1010.3 L1069.1 1008.3 L1067.6 1006.4 L1066.1 1004.4 L1064.6 1002.4 L1063.1 1000.5 L1061.6 998.5 L1060.1 996.6 L1058.6 994.6 L1057.1 992.7 L1055.6 990.8 L1054.0 988.8 L1052.5 986.9 L1051.0 985.0 L1049.5 983.1 L1048.0 981.2 L1046.5 979.3 L1045.0 977.4 L1043.5 975.5 L1042.0 973.6 L1040.5 971.8 L1039.0 969.9 L1037.5 968.0 L1036.0 966.2 L1034.5 964.3 L1033.0 962.5 L1031.5 960.6 L1030.0 958.8 L1028.5 957.0 L1027.0 955.1 L1025.5 953.3 L1024.0 951.5 L1022.5 949.7 L1021.0 947.9 L1019.5 946.1 L1018.0 944.3 L1016.5 942.6 L1015.0 940.8 L1013.5 939.0 L1012.0 937.3 L1010.5 935.5 L1009.0 933.8 L1007.5 932.0 L1006.0 930.3 L1004.5 928.6 L1003.0 926.8 L1001.5 925.1 L1000.0 923.4 L998.4 921.7 L996.9 920.0 L995.4 918.3 L993.9 916.7 L992.4 915.0 L990.9 913.3 L989.4 911.6 L987.9 910.0 L986.4 908.3 L984.9 906.7 L983.4 905.0 L981.9 903.4 L980.4 901.8 L978.9 900.2 L977.4 898.5 L975.9 896.9 L974.4 895.3 L972.9 893.7 L971.4 892.1 L969.9 890.5 L968.4 889.0 L966.9 887.4 L965.4 885.8 L963.9 884.3 L962.4 882.7 L960.9 881.2 L959.4 879.6 L957.9 878.1 L956.4 876.5 L954.9 875.0 L953.3 873.5 L951.8 872.0 L950.3 870.5 L948.8 869.0 L947.3 867.5 L945.8 866.0 L944.3 864.5 L942.8 863.0 L941.3 861.5 L939.8 860.1 L938.3 858.6 L936.8 857.2 L935.3 855.7 L933.8 854.3 L932.3 852.8 L930.8 851.4 L929.3 850.0 L927.8 848.5 L926.3 847.1 L924.8 845.7 L923.3 844.3 L921.8 842.9 L920.3 841.5 L918.8 840.1 L917.3 838.8 L915.8 837.4 L914.2 836.0 L912.7 834.7 L911.2 833.3 L909.7 832.0 L908.2 830.6 L906.7 829.3 L905.2 827.9 L903.7 826.6 L902.2 825.3 L900.7 824.0 L899.2 822.7 L897.7 821.4 L896.2 820.1 L894.7 818.8 L893.2 817.5 L891.7 816.3 L890.2 815.0 L888.7 813.7 L887.2 812.5 L885.7 811.2 L884.1 810.0 L882.6 808.8 L881.1 807.5 L879.6 806.3 L878.1 805.1 L876.6 803.9 L875.1 802.7 L873.6 801.5 L872.1 800.3 L870.6 799.1 L869.1 798.0 L867.6 796.8 L866.1 795.7 L864.6 794.5 L863.1 793.4 L861.6 792.2 L860.1 791.1 L858.5 790.0 L857.0 788.9 L855.5 787.8 L854.0 786.7 L852.5 785.6 L851.0 784.5 L849.5 783.4 L848.0 782.4 L846.5 781.3 L845.0 780.3 L843.5 779.2 L842.0 778.2 L840.5 777.2 L839.0 776.2 L837.4 775.1 L835.9 774.1 L834.4 773.1 L832.9 772.2 L831.4 771.2 L829.9 770.2 L828.4 769.2 L826.9 768.3 L825.4 767.3 L823.9 766.4 L822.4 765.5 L820.9 764.5 L819.3 763.6 L817.8 762.7 L816.3 761.8 L814.8 760.9 L813.3 760.0 L811.8 759.2 L810.3 758.3 L808.8 757.4 L807.3 756.6 L805.8 755.7 L804.3 754.9 L802.8 754.1 L801.2 753.2 L799.7 752.4 L798.2 751.6 L796.7 750.8 L795.2 750.0 L793.7 749.2 L792.2 748.4 L790.7 747.7 L789.2 746.9 L787.7 746.2 L786.2 745.4 L784.6 744.7 L783.1 743.9 L781.6 743.2 L780.1 742.5 L778.6 741.8 L777.1 741.1 L775.6 740.4 L774.1 739.7 L772.6 739.0 L771.1 738.3 L769.6 737.7 L768.0 737.0 L766.5 736.3 L765.0 735.7 L763.5 735.0 L762.0 734.4 L760.5 733.8 L759.0 733.2 L757.5 732.5 L756.0 731.9 L754.5 731.3 L753.0 730.7 L751.4 730.1 L749.9 729.6 L748.4 729.0 L746.9 728.4 L745.4 727.8 L743.9 727.3 L742.4 726.7 L740.9 726.2 L739.4 725.6 L737.9 725.1 L736.4 724.6 L734.8 724.1 L733.3 723.5 L731.8 723.0 L730.3 722.5 L728.8 722.0 L727.3 721.5 L725.8 721.1 L724.3 720.6 L722.8 720.1 L721.3 719.6 L719.8 719.2 L718.3 718.7 L716.7 718.2 L715.2 717.8 L713.7 717.4 L712.2 716.9 L710.7 716.5 L709.2 716.1 L707.7 715.6 L706.2 715.2 L704.7 714.8 L703.2 714.4 L701.7 714.0 L700.2 713.6 L698.7 713.2 L697.1 712.8 L695.6 712.4 L694.1 712.1 L692.6 711.7 L691.1 711.3 L689.6 711.0 L688.1 710.6 L686.6 710.2 L685.1 709.9 L683.6 709.5 L682.1 709.2 L680.6 708.9 L679.1 708.5 L677.5 708.2 L676.0 707.9 L674.5 707.6 L673.0 707.3 L671.5 706.9 L670.0 706.6 L668.5 706.3 L667.0 706.0 L665.5 705.7 L664.0 705.5 L662.5 705.2 L661.0 704.9 L659.5 704.6 L658.0 704.3 L656.5 704.1 L654.9 703.8 L653.4 703.5 L651.9 703.3 L650.4 703.0 L648.9 702.8 L647.4 702.5 L645.9 702.3 L644.4 702.1 L642.9 701.8 L641.4 701.6 L639.9 701.4 L638.4 701.1 L636.9 700.9 L635.4 700.7 L633.9 700.5 L632.4 700.3 L630.9 700.1 L629.3 699.8 L627.8 699.6 L626.3 699.4 L624.8 699.3 L623.3 699.1 L621.8 698.9 L620.3 698.7 L618.8 698.5 L617.3 698.3 L615.8 698.1 L614.3 698.0 L612.8 697.8 L611.3 697.6 L609.8 697.5 L608.3 697.3 L606.8 697.2 L605.3 697.0 L603.8 696.8 L602.3 696.7 L600.8 696.5 L599.2 696.4 L597.7 696.3 L596.2 696.1 L594.7 696.0 L593.2 695.8 L591.7 695.7 L590.2 695.5 L588.7 695.4 L587.2 695.3 L585.7 695.2 L584.2 695.0 L582.7 694.9 L581.2 694.8 L579.7 694.7 L578.2 694.5 L576.7 694.4 L575.2 694.3 L573.7 694.2 L572.2 694.1 L570.7 694.0 L569.2 693.9 L567.7 693.8 L566.2 693.7 L564.7 693.6 L563.2 693.5 L561.7 693.4 L560.2 693.3 L558.7 693.2 L557.1 693.1 L555.6 693.0 L554.1 693.0 L552.6 692.9 L551.1 692.8 L549.6 692.7 L548.1 692.6 L546.6 692.6 L545.1 692.5 L543.6 692.4 L542.1 692.3 L540.6 692.3 L539.1 692.2 L537.6 692.1 L536.1 692.1 L534.6 692.0 L533.1 692.0 L531.6 691.9 L530.1 691.8 L528.6 691.8 L527.1 691.7 L525.6 691.7 L524.1 691.6 L522.6 691.6 L521.1 691.5 L519.6 691.5 L518.1 691.4 L516.6 691.4 L515.1 691.3 L513.6 691.3 L512.1 691.2 L510.6 691.2 L509.1 691.1 L507.6 691.1 L506.1 691.0 L504.6 691.0 L503.1 691.0 L501.6 690.9 L500.1 690.9 L498.6 690.8 L497.1 690.8 L495.6 690.8 L494.1 690.7 L492.6 690.7 L491.1 690.7 L489.6 690.6 L488.0 690.6 L486.5 690.6 L485.0 690.6 L483.5 690.5 L482.0 690.5 L480.5 690.5 L479.0 690.4 L477.5 690.4 L476.0 690.4 L474.5 690.4 L473.0 690.3 L471.5 690.3 L470.0 690.3 L468.5 690.3 L467.0 690.2 L465.5 690.2 L464.0 690.2 L462.5 690.2 L461.0 690.2 L459.5 690.1 L458.0 690.1 L456.5 690.1 L455.0 690.1 L453.5 690.1 L452.0 690.0 L450.5 690.0 L449.0 690.0 L447.5 690.0 L446.0 690.0 L444.5 690.0 L443.0 690.0 L441.5 689.9 L440.0 689.9 L438.5 689.9 L437.0 689.9 L435.5 689.9 L434.0 689.9 L432.5 689.9 L431.0 689.9 L429.5 689.9 L428.0 689.9 L426.5 689.9 L425.0 689.8 L423.5 689.8 L422.0 689.8 L420.5 689.8 L419.0 689.8 L417.5 689.8 L416.0 689.8 L414.5 689.8 L413.0 689.8 L411.5 689.8 L410.0 689.8 L408.5 689.8 L407.0 689.8 L405.5 689.8 L404.0 689.8 L402.5 689.8 L401.0 689.8 L399.5 689.8 L398.0 689.8 L396.5 689.8 L395.0 689.8 L393.5 689.8 L392.0 689.8 L390.5 689.8 L389.0 689.8 L387.5 689.8 L386.0 689.8 L384.5 689.8 L383.0 689.8 L381.5 689.8 L380.0 689.8 L378.5 689.8Z"/>
<path d="M390.2 1008.8 L391.7 1008.8 L393.2 1008.8 L394.7 1008.8 L396.2 1008.8 L397.7 1008.8 L399.2 1008.8 L400.7 1008.8 L402.2 1008.8 L403.7 1008.8 L405.2 1008.8 L406.7 1008.8 L408.2 1008.8 L409.7 1008.8 L411.2 1008.8 L412.7 1008.8 L414.2 1008.8 L415.7 1008.8 L417.2 1008.8 L418.7 1008.8 L420.2 1008.8 L421.7 1008.8 L423.2 1008.8 L424.7 1008.8 L426.2 1008.8 L427.7 1008.8 L429.2 1008.8 L430.7 1008.8 L432.2 1008.8 L433.7 1008.8 L435.2 1008.8 L436.7 1008.8 L438.2 1008.8 L439.7 1008.8 L441.2 1008.8 L442.7 1008.8 L444.2 1008.8 L445.7 1008.8 L447.2 1008.8 L448.7 1008.8 L450.2 1008.8 L451.7 1008.8 L453.2 1008.8 L454.7 1008.8 L456.2 1008.8 L457.7 1008.8 L459.2 1008.8 L460.7 1008.8 L462.2 1008.8 L463.7 1008.8 L465.2 1008.8 L466.7 1008.8 L468.2 1008.8 L469.7 1008.8 L471.2 1008.8 L472.7 1008.8 L474.2 1008.8 L475.7 1008.8 L477.2 1008.8 L478.7 1008.8 L480.2 1008.8 L481.7 1008.8 L483.2 1008.7 L484.7 1008.7 L486.2 1008.7 L487.7 1008.7 L489.2 1008.7 L490.7 1008.7 L492.2 1008.7 L493.7 1008.7 L495.2 1008.7 L496.7 1008.7 L498.2 1008.7 L499.7 1008.7 L501.2 1008.7 L502.7 1008.7 L504.2 1008.7 L505.7 1008.7 L507.2 1008.7 L508.7 1008.7 L510.2 1008.7 L511.7 1008.7 L513.2 1008.7 L514.7 1008.7 L516.2 1008.7 L517.7 1008.7 L519.2 1008.7 L520.7 1008.7 L522.2 1008.7 L523.7 1008.7 L525.2 1008.7 L526.7 1008.7 L528.2 1008.7 L529.7 1008.7 L531.2 1008.7 L532.7 1008.7 L534.2 1008.7 L535.7 1008.7 L537.2 1008.7 L538.7 1008.7 L540.2 1008.7 L541.7 1008.7 L543.2 1008.7 L544.7 1008.7 L546.2 1008.7 L547.7 1008.7 L549.2 1008.7 L550.7 1008.7 L552.2 1008.7 L553.7 1008.7 L555.2 1008.7 L556.7 1008.7 L558.2 1008.7 L559.7 1008.7 L561.2 1008.7 L562.7 1008.7 L564.2 1008.7 L565.7 1008.7 L567.2 1008.7 L568.7 1008.7 L570.2 1008.7 L571.7 1008.7 L573.2 1008.7 L574.7 1008.7 L576.2 1008.7 L577.7 1008.7 L579.2 1008.7 L580.7 1008.7 L582.2 1008.7 L583.7 1008.7 L585.2 1008.7 L586.7 1008.7 L588.2 1008.7 L589.7 1008.7 L591.2 1008.8 L592.7 1008.8 L594.2 1008.8 L595.7 1008.8 L597.2 1008.8 L598.7 1008.8 L600.2 1008.8 L601.7 1008.8 L603.2 1008.8 L604.7 1008.8 L606.2 1008.8 L607.7 1008.8 L609.2 1008.8 L610.7 1008.9 L612.2 1008.9 L613.7 1008.9 L615.2 1008.9 L616.7 1008.9 L618.2 1008.9 L619.7 1009.0 L621.2 1009.0 L622.7 1009.0 L624.2 1009.0 L625.7 1009.0 L627.2 1009.1 L628.7 1009.1 L630.2 1009.1 L631.7 1009.1 L633.2 1009.1 L634.7 1009.2 L636.2 1009.2 L637.7 1009.2 L639.2 1009.2 L640.7 1009.3 L642.2 1009.3 L643.7 1009.3 L645.2 1009.3 L646.7 1009.4 L648.2 1009.4 L649.6 1009.4 L651.1 1009.5 L652.6 1009.5 L654.1 1009.5 L655.6 1009.6 L657.1 1009.6 L658.6 1009.6 L660.1 1009.7 L661.6 1009.7 L663.1 1009.7 L664.6 1009.8 L666.1 1009.8 L667.6 1009.8 L669.1 1009.9 L670.6 1009.9 L672.1 1010.0 L673.6 1010.0 L675.1 1010.0 L676.6 1010.1 L678.1 1010.1 L679.6 1010.2 L681.1 1010.2 L682.6 1010.3 L684.1 1010.3 L685.6 1010.4 L687.1 1010.4 L688.6 1010.5 L690.1 1010.5 L691.6 1010.6 L693.1 1010.6 L694.6 1010.7 L696.1 1010.7 L697.6 1010.8 L699.1 1010.9 L700.6 1010.9 L702.1 1011.0 L703.6 1011.1 L705.1 1011.1 L706.6 1011.2 L708.1 1011.3 L709.6 1011.3 L711.1 1011.4 L712.6 1011.5 L714.1 1011.5 L715.6 1011.6 L717.1 1011.7 L718.6 1011.8 L720.1 1011.8 L721.6 1011.9 L723.1 1012.0 L724.6 1012.1 L726.0 1012.2 L727.5 1012.3 L729.0 1012.4 L730.5 1012.5 L732.0 1012.5 L733.5 1012.6 L735.0 1012.7 L736.5 1012.8 L738.0 1012.9 L739.5 1013.0 L741.0 1013.1 L742.5 1013.2 L744.0 1013.4 L745.5 1013.5 L747.0 1013.6 L748.5 1013.7 L750.0 1013.8 L751.5 1013.9 L753.0 1014.1 L754.5 1014.2 L756.0 1014.3 L757.5 1014.4 L759.0 1014.6 L760.5 1014.7 L762.0 1014.8 L763.5 1015.0 L765.0 1015.1 L766.5 1015.2 L767.9 1015.4 L769.4 1015.5 L770.9 1015.7 L772.4 1015.8 L773.9 1016.0 L775.4 1016.1 L776.9 1016.3 L778.4 1016.5 L779.9 1016.6 L781.4 1016.8 L782.9 1017.0 L784.4 1017.1 L785.9 1017.3 L787.4 1017.5 L788.9 1017.7 L790.4 1017.9 L791.9 1018.0 L793.4 1018.2 L794.9 1018.4 L796.4 1018.6 L797.9 1018.8 L799.3 1019.0 L800.8 1019.2 L802.3 1019.4 L803.8 1019.7 L805.3 1019.9 L806.8 1020.1 L808.3 1020.3 L809.8 1020.5 L811.3 1020.8 L812.8 1021.0 L814.3 1021.2 L815.8 1021.5 L817.3 1021.7 L818.8 1022.0 L820.3 1022.2 L821.8 1022.5 L823.3 1022.7 L824.8 1023.0 L826.2 1023.2 L827.7 1023.5 L829.2 1023.8 L830.7 1024.1 L832.2 1024.3 L833.7 1024.6 L835.2 1024.9 L836.7 1025.2 L838.2 1025.5 L839.7 1025.8 L841.2 1026.1 L842.7 1026.4 L844.2 1026.7 L845.7 1027.0 L847.2 1027.3 L848.6 1027.7 L850.1 1028.0 L851.6 1028.3 L853.1 1028.7 L854.6 1029.0 L856.1 1029.3 L857.6 1029.7 L859.1 1030.1 L860.6 1030.4 L862.1 1030.8 L863.6 1031.1 L865.1 1031.5 L866.6 1031.9 L868.1 1032.3 L869.5 1032.7 L871.0 1033.0 L872.5 1033.4 L874.0 1033.8 L875.5 1034.2 L877.0 1034.6 L878.5 1035.1 L880.0 1035.5 L881.5 1035.9 L883.0 1036.3 L884.5 1036.8 L886.0 1037.2 L887.5 1037.6 L888.9 1038.1 L890.4 1038.5 L891.9 1039.0 L893.4 1039.5 L894.9 1039.9 L896.4 1040.4 L897.9 1040.9 L899.4 1041.4 L900.9 1041.9 L902.4 1042.4 L903.9 1042.9 L905.4 1043.4 L906.9 1043.9 L908.3 1044.4 L909.8 1044.9 L911.3 1045.4 L912.8 1046.0 L914.3 1046.5 L915.8 1047.0 L917.3 1047.6 L918.8 1048.1 L920.3 1048.7 L921.8 1049.2 L923.3 1049.8 L924.8 1050.4 L926.3 1051.0 L927.7 1051.6 L929.2 1052.1 L930.7 1052.7 L932.2 1053.3 L933.7 1053.9 L935.2 1054.6 L936.7 1055.2 L938.2 1055.8 L939.7 1056.4 L941.2 1057.1 L942.7 1057.7 L944.2 1058.3 L945.7 1059.0 L947.2 1059.6 L948.6 1060.3 L950.1 1061.0 L951.6 1061.6 L953.1 1062.3 L954.6 1063.0 L956.1 1063.7 L957.6 1064.4 L959.1 1065.1 L960.6 1065.8 L962.1 1066.5 L963.6 1067.2 L965.1 1068.0 L966.6 1068.7 L968.0 1069.4 L969.5 1070.2 L971.0 1070.9 L972.5 1071.7 L974.0 1072.4 L975.5 1073.2 L977.0 1074.0 L978.5 1074.8 L980.0 1075.5 L981.5 1076.3 L983.0 1077.1 L984.5 1077.9 L986.0 1078.7 L987.5 1079.5 L988.9 1080.4 L990.4 1081.2 L991.9 1082.0 L993.4 1082.9 L994.9 1083.7 L996.4 1084.6 L997.9 1085.4 L999.4 1086.3 L1000.9 1087.2 L1002.4 1088.0 L1003.9 1088.9 L1005.4 1089.8 L1006.9 1090.7 L1008.4 1091.6 L1009.8 1092.5 L1011.3 1093.4 L1012.8 1094.3 L1014.3 1095.3 L1015.8 1096.2 L1017.3 1097.1 L1018.8 1098.1 L1020.3 1099.0 L1021.8 1100.0 L1023.3 1101.0 L1024.8 1101.9 L1026.3 1102.9 L1027.8 1103.9 L1029.3 1104.9 L1030.8 1105.9 L1032.2 1106.9 L1033.7 1107.9 L1035.2 1108.9 L1036.7 1110.0 L1038.2 1111.0 L1039.7 1112.0 L1041.2 1113.1 L1042.7 1114.1 L1044.2 1115.2 L1045.7 1116.3 L1047.2 1117.3 L1048.7 1118.4 L1050.2 1119.5 L1051.7 1120.6 L1053.2 1121.7 L1054.7 1122.8 L1056.1 1123.9 L1057.6 1125.0 L1059.1 1126.1 L1060.6 1127.3 L1062.1 1128.4 L1063.6 1129.6 L1065.1 1130.7 L1066.6 1131.9 L1068.1 1133.0 L1069.6 1134.2 L1071.1 1135.4 L1072.6 1136.6 L1074.1 1137.7 L1075.6 1138.9 L1077.1 1140.1 L1078.6 1141.4 L1080.1 1142.6 L1081.6 1143.8 L1083.0 1145.0 L1084.5 1146.2 L1086.0 1147.5 L1087.5 1148.7 L1089.0 1150.0 L1090.5 1151.2 L1092.0 1152.5 L1093.5 1153.8 L1095.0 1155.1 L1096.5 1156.3 L1098.0 1157.6 L1099.5 1158.9 L1101.0 1160.2 L1102.5 1161.5 L1104.0 1162.8 L1105.5 1164.2 L1107.0 1165.5 L1108.5 1166.8 L1110.0 1168.2 L1111.5 1169.5 L1113.0 1170.8 L1114.5 1172.2 L1115.9 1173.6 L1117.4 1174.9 L1118.9 1176.3 L1120.4 1177.7 L1121.9 1179.1 L1123.4 1180.5 L1124.9 1181.8 L1126.4 1183.2 L1127.9 1184.7 L1129.4 1186.1 L1130.9 1187.5 L1132.4 1188.9 L1133.9 1190.3 L1135.4 1191.8 L1136.9 1193.2 L1138.4 1194.7 L1139.9 1196.1 L1141.4 1197.6 L1142.9 1199.0 L1144.4 1200.5 L1145.9 1202.0 L1147.4 1203.4 L1148.9 1204.9 L1150.4 1206.4 L1151.9 1207.9 L1153.4 1209.4 L1154.9 1210.9 L1156.4 1212.4 L1157.8 1213.9 L1159.3 1215.5 L1160.8 1217.0 L1162.3 1218.5 L1163.8 1220.0 L1165.3 1221.6 L1166.8 1223.1 L1168.3 1224.7 L1169.8 1226.2 L1171.3 1227.8 L1172.8 1229.4 L1174.3 1231.0 L1175.8 1232.5 L1177.3 1234.1 L1178.8 1235.7 L1180.3 1237.3 L1181.8 1238.9 L1183.3 1240.5 L1184.8 1242.1 L1186.3 1243.7 L1187.8 1245.3 L1189.3 1247.0 L1190.8 1248.6 L1192.3 1250.2 L1193.8 1251.9 L1195.3 1253.5 L1196.8 1255.1 L1198.3 1256.8 L1199.8 1258.5 L1201.3 1260.1 L1202.8 1261.8 L1204.3 1263.5 L1205.8 1265.1 L1207.3 1266.8 L1208.8 1268.5 L1210.3 1270.2 L1211.8 1271.9 L1213.2 1273.6 L1214.7 1275.3 L1216.2 1277.0 L1217.7 1278.7 L1219.2 1280.4 L1220.7 1282.1 L1222.2 1283.9 L1223.7 1285.6 L1225.2 1287.3 L1226.7 1289.1 L1228.2 1290.8 L1229.7 1292.6 L1231.2 1294.3 L1232.7 1296.1 L1234.2 1297.9 L1235.7 1299.6 L1237.2 1301.4 L1238.7 1303.2 L1240.2 1305.0 L1241.7 1306.8 L1243.2 1308.6 L1244.7 1310.4 L1246.2 1312.2 L1247.7 1314.0 L1249.2 1315.8 L1250.7 1317.6 L1252.2 1319.4 L1253.7 1321.2 L1255.2 1323.1 L1256.7 1324.9 L1258.2 1326.7 L1259.7 1328.6 L1261.2 1330.4 L1262.7 1332.3 L1264.2 1334.1 L1265.7 1336.0 L1267.2 1337.9 L1268.7 1339.7 L1270.2 1341.6 L1271.7 1343.5 L1273.2 1345.4 L1274.7 1347.3 L1276.2 1349.2 L1277.7 1351.0 L1279.2 1352.9 L1280.7 1354.9 L1282.2 1356.8 L1283.7 1358.7 L1285.2 1360.6 L1286.6 1362.5 L1288.1 1364.4 L1289.6 1366.4 L1291.1 1368.3 L1292.6 1370.2 L1294.1 1372.2 L1295.6 1374.1 L1297.1 1376.1 L1298.6 1378.0 L1300.1 1380.0 L1301.6 1382.0 L1303.1 1383.9 L1304.6 1385.9 L1306.1 1387.9 L1307.6 1389.8 L1309.1 1391.8 L1310.6 1393.8 L1312.1 1395.8 L1313.6 1397.8 L1315.1 1399.8 L1316.6 1401.8 L1318.1 1403.8 L1319.6 1405.8 L1321.1 1407.8 L1322.6 1409.8 L1324.1 1411.9 L1325.6 1413.9 L1325.9 1414.3 L1333.9 1425.1 L1338.1 1422.0 L1330.1 1411.2 L1329.8 1410.8 L1328.3 1408.8 L1326.8 1406.7 L1325.3 1404.7 L1323.8 1402.7 L1322.3 1400.7 L1320.8 1398.7 L1319.3 1396.7 L1317.8 1394.7 L1316.3 1392.7 L1314.8 1390.7 L1313.3 1388.7 L1311.8 1386.7 L1310.3 1384.7 L1308.8 1382.7 L1307.3 1380.8 L1305.8 1378.8 L1304.3 1376.8 L1302.8 1374.9 L1301.3 1372.9 L1299.8 1371.0 L1298.3 1369.0 L1296.8 1367.1 L1295.3 1365.1 L1293.8 1363.2 L1292.3 1361.2 L1290.8 1359.3 L1289.2 1357.4 L1287.7 1355.5 L1286.2 1353.6 L1284.7 1351.6 L1283.2 1349.7 L1281.7 1347.8 L1280.2 1345.9 L1278.7 1344.0 L1277.2 1342.1 L1275.7 1340.3 L1274.2 1338.4 L1272.7 1336.5 L1271.2 1334.6 L1269.7 1332.7 L1268.2 1330.9 L1266.7 1329.0 L1265.2 1327.2 L1263.7 1325.3 L1262.2 1323.5 L1260.7 1321.6 L1259.2 1319.8 L1257.7 1317.9 L1256.2 1316.1 L1254.7 1314.3 L1253.2 1312.5 L1251.7 1310.7 L1250.2 1308.8 L1248.7 1307.0 L1247.2 1305.2 L1245.7 1303.4 L1244.2 1301.6 L1242.7 1299.8 L1241.2 1298.1 L1239.7 1296.3 L1238.2 1294.5 L1236.7 1292.7 L1235.2 1291.0 L1233.7 1289.2 L1232.2 1287.5 L1230.7 1285.7 L1229.2 1284.0 L1227.7 1282.2 L1226.2 1280.5 L1224.7 1278.7 L1223.2 1277.0 L1221.7 1275.3 L1220.2 1273.6 L1218.7 1271.9 L1217.2 1270.1 L1215.6 1268.4 L1214.1 1266.7 L1212.6 1265.0 L1211.1 1263.4 L1209.6 1261.7 L1208.1 1260.0 L1206.6 1258.3 L1205.1 1256.6 L1203.6 1255.0 L1202.1 1253.3 L1200.6 1251.6 L1199.1 1250.0 L1197.6 1248.3 L1196.1 1246.7 L1194.6 1245.1 L1193.1 1243.4 L1191.6 1241.8 L1190.1 1240.2 L1188.6 1238.6 L1187.1 1236.9 L1185.6 1235.3 L1184.1 1233.7 L1182.6 1232.1 L1181.1 1230.5 L1179.6 1229.0 L1178.1 1227.4 L1176.6 1225.8 L1175.1 1224.2 L1173.6 1222.6 L1172.1 1221.1 L1170.6 1219.5 L1169.1 1218.0 L1167.6 1216.4 L1166.1 1214.9 L1164.6 1213.3 L1163.1 1211.8 L1161.6 1210.3 L1160.0 1208.8 L1158.5 1207.2 L1157.0 1205.7 L1155.5 1204.2 L1154.0 1202.7 L1152.5 1201.2 L1151.0 1199.7 L1149.5 1198.3 L1148.0 1196.8 L1146.5 1195.3 L1145.0 1193.8 L1143.5 1192.4 L1142.0 1190.9 L1140.5 1189.5 L1139.0 1188.0 L1137.5 1186.6 L1136.0 1185.1 L1134.5 1183.7 L1133.0 1182.3 L1131.5 1180.9 L1130.0 1179.5 L1128.5 1178.0 L1127.0 1176.6 L1125.5 1175.2 L1124.0 1173.9 L1122.5 1172.5 L1121.0 1171.1 L1119.5 1169.7 L1117.9 1168.4 L1116.4 1167.0 L1114.9 1165.6 L1113.4 1164.3 L1111.9 1162.9 L1110.4 1161.6 L1108.9 1160.3 L1107.4 1158.9 L1105.9 1157.6 L1104.4 1156.3 L1102.9 1155.0 L1101.4 1153.7 L1099.9 1152.4 L1098.4 1151.1 L1096.9 1149.8 L1095.4 1148.5 L1093.9 1147.3 L1092.4 1146.0 L1090.9 1144.7 L1089.4 1143.5 L1087.9 1142.2 L1086.4 1141.0 L1084.8 1139.8 L1083.3 1138.5 L1081.8 1137.3 L1080.3 1136.1 L1078.8 1134.9 L1077.3 1133.7 L1075.8 1132.5 L1074.3 1131.3 L1072.8 1130.1 L1071.3 1128.9 L1069.8 1127.8 L1068.3 1126.6 L1066.8 1125.4 L1065.3 1124.3 L1063.8 1123.1 L1062.3 1122.0 L1060.8 1120.9 L1059.3 1119.7 L1057.7 1118.6 L1056.2 1117.5 L1054.7 1116.4 L1053.2 1115.3 L1051.7 1114.2 L1050.2 1113.1 L1048.7 1112.0 L1047.2 1111.0 L1045.7 1109.9 L1044.2 1108.8 L1042.7 1107.8 L1041.2 1106.7 L1039.7 1105.7 L1038.2 1104.6 L1036.7 1103.6 L1035.2 1102.6 L1033.6 1101.6 L1032.1 1100.6 L1030.6 1099.6 L1029.1 1098.6 L1027.6 1097.6 L1026.1 1096.6 L1024.6 1095.6 L1023.1 1094.7 L1021.6 1093.7 L1020.1 1092.7 L1018.6 1091.8 L1017.1 1090.9 L1015.6 1089.9 L1014.1 1089.0 L1012.6 1088.1 L1011.0 1087.2 L1009.5 1086.2 L1008.0 1085.3 L1006.5 1084.4 L1005.0 1083.5 L1003.5 1082.7 L1002.0 1081.8 L1000.5 1080.9 L999.0 1080.0 L997.5 1079.2 L996.0 1078.3 L994.5 1077.5 L993.0 1076.6 L991.5 1075.8 L989.9 1075.0 L988.4 1074.2 L986.9 1073.3 L985.4 1072.5 L983.9 1071.7 L982.4 1070.9 L980.9 1070.1 L979.4 1069.4 L977.9 1068.6 L976.4 1067.8 L974.9 1067.0 L973.4 1066.3 L971.9 1065.5 L970.4 1064.8 L968.8 1064.0 L967.3 1063.3 L965.8 1062.6 L964.3 1061.8 L962.8 1061.1 L961.3 1060.4 L959.8 1059.7 L958.3 1059.0 L956.8 1058.3 L955.3 1057.6 L953.8 1056.9 L952.3 1056.2 L950.8 1055.6 L949.2 1054.9 L947.7 1054.2 L946.2 1053.6 L944.7 1052.9 L943.2 1052.3 L941.7 1051.6 L940.2 1051.0 L938.7 1050.4 L937.2 1049.7 L935.7 1049.1 L934.2 1048.5 L932.7 1047.9 L931.2 1047.3 L929.7 1046.7 L928.1 1046.1 L926.6 1045.5 L925.1 1045.0 L923.6 1044.4 L922.1 1043.8 L920.6 1043.3 L919.1 1042.7 L917.6 1042.1 L916.1 1041.6 L914.6 1041.1 L913.1 1040.5 L911.6 1040.0 L910.1 1039.5 L908.5 1038.9 L907.0 1038.4 L905.5 1037.9 L904.0 1037.4 L902.5 1036.9 L901.0 1036.4 L899.5 1035.9 L898.0 1035.5 L896.5 1035.0 L895.0 1034.5 L893.5 1034.0 L892.0 1033.6 L890.5 1033.1 L888.9 1032.7 L887.4 1032.2 L885.9 1031.8 L884.4 1031.3 L882.9 1030.9 L881.4 1030.5 L879.9 1030.1 L878.4 1029.6 L876.9 1029.2 L875.4 1028.8 L873.9 1028.4 L872.4 1028.0 L870.9 1027.6 L869.3 1027.2 L867.8 1026.8 L866.3 1026.5 L864.8 1026.1 L863.3 1025.7 L861.8 1025.4 L860.3 1025.0 L858.8 1024.6 L857.3 1024.3 L855.8 1023.9 L854.3 1023.6 L852.8 1023.3 L851.3 1022.9 L849.8 1022.6 L848.2 1022.3 L846.7 1021.9 L845.2 1021.6 L843.7 1021.3 L842.2 1021.0 L840.7 1020.7 L839.2 1020.4 L837.7 1020.1 L836.2 1019.8 L834.7 1019.5 L833.2 1019.2 L831.7 1018.9 L830.2 1018.7 L828.7 1018.4 L827.2 1018.1 L825.6 1017.9 L824.1 1017.6 L822.6 1017.3 L821.1 1017.1 L819.6 1016.8 L818.1 1016.6 L816.6 1016.3 L815.1 1016.1 L813.6 1015.9 L812.1 1015.6 L810.6 1015.4 L809.1 1015.2 L807.6 1014.9 L806.1 1014.7 L804.6 1014.5 L803.1 1014.3 L801.6 1014.1 L800.1 1013.9 L798.5 1013.7 L797.0 1013.5 L795.5 1013.3 L794.0 1013.1 L792.5 1012.9 L791.0 1012.7 L789.5 1012.5 L788.0 1012.3 L786.5 1012.2 L785.0 1012.0 L783.5 1011.8 L782.0 1011.6 L780.5 1011.5 L779.0 1011.3 L777.5 1011.1 L776.0 1011.0 L774.5 1010.8 L773.0 1010.7 L771.5 1010.5 L770.0 1010.4 L768.5 1010.2 L766.9 1010.1 L765.4 1009.9 L763.9 1009.8 L762.4 1009.6 L760.9 1009.5 L759.4 1009.4 L757.9 1009.2 L756.4 1009.1 L754.9 1009.0 L753.4 1008.9 L751.9 1008.7 L750.4 1008.6 L748.9 1008.5 L747.4 1008.4 L745.9 1008.3 L744.4 1008.2 L742.9 1008.1 L741.4 1008.0 L739.9 1007.9 L738.4 1007.7 L736.9 1007.6 L735.4 1007.5 L733.9 1007.5 L732.4 1007.4 L730.9 1007.3 L729.4 1007.2 L727.9 1007.1 L726.4 1007.0 L724.8 1006.9 L723.3 1006.8 L721.8 1006.7 L720.3 1006.7 L718.8 1006.6 L717.3 1006.5 L715.8 1006.4 L714.3 1006.3 L712.8 1006.3 L711.3 1006.2 L709.8 1006.1 L708.3 1006.1 L706.8 1006.0 L705.3 1005.9 L703.8 1005.9 L702.3 1005.8 L700.8 1005.7 L699.3 1005.7 L697.8 1005.6 L696.3 1005.6 L694.8 1005.5 L693.3 1005.4 L691.8 1005.4 L690.3 1005.3 L688.8 1005.3 L687.3 1005.2 L685.8 1005.2 L684.3 1005.1 L682.8 1005.1 L681.3 1005.0 L679.8 1005.0 L678.3 1004.9 L676.8 1004.9 L675.3 1004.8 L673.8 1004.8 L672.3 1004.8 L670.8 1004.7 L669.3 1004.7 L667.8 1004.6 L666.3 1004.6 L664.8 1004.6 L663.3 1004.5 L661.8 1004.5 L660.3 1004.5 L658.8 1004.4 L657.3 1004.4 L655.8 1004.4 L654.3 1004.3 L652.8 1004.3 L651.3 1004.3 L649.8 1004.2 L648.2 1004.2 L646.7 1004.2 L645.2 1004.2 L643.7 1004.1 L642.2 1004.1 L640.7 1004.1 L639.2 1004.0 L637.7 1004.0 L636.2 1004.0 L634.7 1004.0 L633.2 1003.9 L631.7 1003.9 L630.2 1003.9 L628.7 1003.9 L627.2 1003.9 L625.7 1003.8 L624.2 1003.8 L622.7 1003.8 L621.2 1003.8 L619.7 1003.8 L618.2 1003.7 L616.7 1003.7 L615.2 1003.7 L613.7 1003.7 L612.2 1003.7 L610.7 1003.7 L609.2 1003.6 L607.7 1003.6 L606.2 1003.6 L604.7 1003.6 L603.2 1003.5 L601.7 1003.5 L600.2 1003.5 L598.7 1003.5 L597.2 1003.5 L595.7 1003.4 L594.2 1003.4 L592.7 1003.4 L591.2 1003.4 L589.7 1003.4 L588.2 1003.4 L586.7 1003.3 L585.2 1003.3 L583.7 1003.3 L582.2 1003.3 L580.7 1003.3 L579.2 1003.2 L577.7 1003.2 L576.2 1003.2 L574.7 1003.2 L573.2 1003.2 L571.7 1003.2 L570.2 1003.1 L568.7 1003.1 L567.2 1003.1 L565.7 1003.1 L564.2 1003.1 L562.7 1003.1 L561.2 1003.1 L559.7 1003.0 L558.2 1003.0 L556.7 1003.0 L555.2 1003.0 L553.7 1003.0 L552.2 1003.0 L550.7 1003.0 L549.2 1002.9 L547.7 1002.9 L546.2 1002.9 L544.7 1002.9 L543.2 1002.9 L541.7 1002.9 L540.2 1002.9 L538.7 1002.8 L537.2 1002.8 L535.7 1002.8 L534.2 1002.8 L532.7 1002.8 L531.2 1002.8 L529.7 1002.8 L528.2 1002.8 L526.7 1002.8 L525.2 1002.7 L523.7 1002.7 L522.2 1002.7 L520.7 1002.7 L519.2 1002.7 L517.7 1002.7 L516.2 1002.7 L514.7 1002.7 L513.2 1002.6 L511.7 1002.6 L510.2 1002.6 L508.7 1002.6 L507.2 1002.6 L505.7 1002.6 L504.2 1002.6 L502.7 1002.6 L501.2 1002.6 L499.7 1002.5 L498.2 1002.5 L496.7 1002.5 L495.2 1002.5 L493.7 1002.5 L492.2 1002.5 L490.7 1002.5 L489.2 1002.5 L487.7 1002.5 L486.2 1002.5 L484.7 1002.4 L483.2 1002.4 L481.7 1002.4 L480.2 1002.4 L478.7 1002.4 L477.2 1002.4 L475.7 1002.4 L474.2 1002.4 L472.7 1002.4 L471.2 1002.4 L469.7 1002.3 L468.2 1002.3 L466.7 1002.3 L465.2 1002.3 L463.7 1002.3 L462.2 1002.3 L460.7 1002.3 L459.2 1002.3 L457.7 1002.3 L456.2 1002.3 L454.7 1002.3 L453.2 1002.3 L451.7 1002.2 L450.2 1002.2 L448.7 1002.2 L447.2 1002.2 L445.7 1002.2 L444.2 1002.2 L442.7 1002.2 L441.2 1002.2 L439.7 1002.2 L438.2 1002.2 L436.7 1002.2 L435.2 1002.2 L433.7 1002.2 L432.2 1002.2 L430.7 1002.2 L429.2 1002.2 L427.7 1002.2 L426.2 1002.2 L424.7 1002.2 L423.2 1002.2 L421.7 1002.2 L420.2 1002.2 L418.7 1002.2 L417.2 1002.2 L415.7 1002.2 L414.2 1002.2 L412.7 1002.2 L411.2 1002.2 L409.7 1002.2 L408.2 1002.2 L406.7 1002.2 L405.2 1002.2 L403.7 1002.2 L402.2 1002.2 L400.7 1002.2 L399.2 1002.2 L397.7 1002.2 L396.2 1002.2 L394.7 1002.2 L393.2 1002.2 L391.7 1002.2 L390.2 1002.2Z"/>
</g>
<g>
</g>
<g font-size="69">
<text x="22.0 52.7 64.5 99.4 134.3 164.0 175.8 210.6 245.5" y="180.6">1,000,000</text>
<text x="338.9 368.9 380.6 416.1 451.3 481.2 493.2 528.4 563.6" y="281.7">4,300,000</text>
<text x="60.5 96.6 131.8 161.6 173.6 208.7 243.8" y="434.3">100,000</text>
<text x="339.0 369.0 379.8 415.6 450.4 480.1 491.9 526.7 561.5" y="444.3">3,100,000</text>
<text x="341.6 372.5 384.7 419.6 454.7 484.6 496.5 531.7 566.8" y="661.7">1,900,000</text>
<text x="141.7 176.2 209.8 243.3" y="698.5">1000</text>
<text x="140.4 176.2 211.0 245.7" y="953.8">1000</text>
<text x="347.9 378.1 388.4 423.4 457.4 486.6 497.8 531.8 565.8" y="975.5">1,100,000</text>
<text x="175.6 210.4 244.1" y="1219.3">100</text>
<text x="210.9 242.6" y="1481.7">10</text>
<text x="237.0 271.2 287.1 320.4 352.6" y="1546">0.001</text>
<text x="430.2 464.1 479.8 511.6" y="1547">0.01</text>
<text x="609.0 641.5 654.9" y="1547">0.1</text>
<text transform="translate(818.4,1547) scale(0.934,1)" x="-18.2">1</text>
<text x="952.7 987.9" y="1547">10</text>
<text x="1098.7 1134.4 1169.1" y="1545">100</text>
<text x="1257.5 1292.7 1326.9 1361.1" y="1545">1000</text>
</g>
<g font-size="70">
<text transform="translate(50.0,78.0) scale(0.817,1.0)" x="-25.3" stroke="#000" stroke-width="1.5">V</text>
<text transform="translate(85.9,78.0) scale(0.859,1.0)" x="-9.8" stroke="#000" stroke-width="1.5">i</text>
<text transform="translate(110.8,78.0) scale(0.984,0.92)" x="-13.8" stroke="#000" stroke-width="1.5">s</text>
<text transform="translate(139.9,78.0) scale(0.853,0.92)" x="-15.8" stroke="#000" stroke-width="1.5">c</text>
<text transform="translate(171.7,78.0) scale(0.913,0.92)" x="-17.5" stroke="#000" stroke-width="1.5">o</text>
<text transform="translate(202.1,78.0) scale(0.984,0.92)" x="-13.8" stroke="#000" stroke-width="1.5">s</text>
<text transform="translate(229.8,78.0) scale(0.847,1.0)" x="-9.8" stroke="#000" stroke-width="1.5">i</text>
<text transform="translate(254.0,78.0) scale(1.117,1.0)" x="-9.9" stroke="#000" stroke-width="1.5">t</text>
<text transform="translate(284.0,78.0) scale(0.900,0.92)" x="-17.8" stroke="#000" stroke-width="1.5">y</text>
<text transform="translate(326.9,74.2) scale(0.634,1.158)" x="-12.1" stroke="#000" stroke-width="1.5">(</text>
<text transform="translate(363.2,78.0) scale(0.889,0.92)" x="-27.4" stroke="#000" stroke-width="1.5">m</text>
<text transform="translate(411.9,78.0) scale(1.003,1.0)" x="-19.1" stroke="#000" stroke-width="1.5">P</text>
<text transform="translate(450.6,78.0) scale(0.951,0.92)" x="-16.3" stroke="#000" stroke-width="1.5">a</text>
<text transform="translate(482.8,78.0) scale(0.975,0.92)" x="-13.8" stroke="#000" stroke-width="1.5">s</text>
<text transform="translate(504.1,74.2) scale(0.578,1.158)" x="-11.2" stroke="#000" stroke-width="1.5">)</text>
<text transform="translate(372.4,179.6) scale(0.846,1.0)" x="-31.1" stroke="#000" stroke-width="1.5">M</text>
<text transform="translate(419.1,179.6) scale(0.924,0.92)" x="-17.5" stroke="#000" stroke-width="1.5">o</text>
<text transform="translate(447.6,179.6) scale(0.847,1.0)" x="-9.7" stroke="#000" stroke-width="1.5">l</text>
<text transform="translate(473.8,179.6) scale(0.934,0.92)" x="-15.7" stroke="#000" stroke-width="1.5">e</text>
<text transform="translate(504.2,179.6) scale(0.865,0.92)" x="-15.8" stroke="#000" stroke-width="1.5">c</text>
<text transform="translate(537.0,179.6) scale(0.882,0.92)" x="-17.4" stroke="#000" stroke-width="1.5">u</text>
<text transform="translate(566.1,179.6) scale(0.889,1.0)" x="-9.7" stroke="#000" stroke-width="1.5">l</text>
<text transform="translate(594.6,179.6) scale(0.958,0.92)" x="-16.3" stroke="#000" stroke-width="1.5">a</text>
<text transform="translate(628.5,179.6) scale(1.136,0.92)" x="-12.0" stroke="#000" stroke-width="1.5">r</text>
<text transform="translate(687.8,179.6) scale(0.825,0.92)" x="-25.2" stroke="#000" stroke-width="1.5">w</text>
<text transform="translate(729.5,179.6) scale(0.965,0.92)" x="-15.7" stroke="#000" stroke-width="1.5">e</text>
<text transform="translate(756.5,179.6) scale(0.805,1.0)" x="-9.8" stroke="#000" stroke-width="1.5">i</text>
<text transform="translate(785.4,179.6) scale(0.890,0.92)" x="-18.3" stroke="#000" stroke-width="1.5">g</text>
<text transform="translate(823.6,179.6) scale(0.865,1.0)" x="-17.4" stroke="#000" stroke-width="1.5">h</text>
<text transform="translate(856.8,179.6) scale(1.106,1.0)" x="-9.9" stroke="#000" stroke-width="1.5">t</text>
<text transform="translate(580.1,1637.4) scale(1.090,1.0)" x="-19.6" stroke="#000" stroke-width="1.1">S</text>
<text transform="translate(620.0,1637.4) scale(0.922,1.0)" x="-17.4" stroke="#000" stroke-width="1.1">h</text>
<text transform="translate(654.1,1637.4) scale(0.950,0.92)" x="-15.7" stroke="#000" stroke-width="1.1">e</text>
<text transform="translate(687.0,1637.4) scale(1.020,0.92)" x="-16.3" stroke="#000" stroke-width="1.1">a</text>
<text transform="translate(721.1,1637.4) scale(1.113,0.92)" x="-12.0" stroke="#000" stroke-width="1.1">r</text>
<text transform="translate(771.6,1637.4) scale(1.113,0.92)" x="-12.0" stroke="#000" stroke-width="1.1">r</text>
<text transform="translate(804.4,1637.4) scale(0.995,0.92)" x="-16.3" stroke="#000" stroke-width="1.1">a</text>
<text transform="translate(836.2,1637.4) scale(1.144,1.0)" x="-9.9" stroke="#000" stroke-width="1.1">t</text>
<text transform="translate(865.3,1637.4) scale(0.992,0.92)" x="-15.7" stroke="#000" stroke-width="1.1">e</text>
<text transform="translate(911.8,1631.9) scale(0.556,1.150)" x="-12.1" stroke="#000" stroke-width="1.1">(</text>
<text transform="translate(938.1,1637.4) scale(0.889,1.0)" x="-18.5" stroke="#000" stroke-width="1.1">1</text>
<text transform="translate(970.4,1637.4) scale(1.200,1.0)" x="-9.7" stroke="#000" stroke-width="1.1">/</text>
<text transform="translate(1001.2,1637.4) scale(0.962,0.92)" x="-13.8" stroke="#000" stroke-width="1.1">s</text>
<text transform="translate(1023.0,1631.9) scale(0.606,1.150)" x="-11.2" stroke="#000" stroke-width="1.1">)</text>
</g>
</g>
</svg>
</body></html>
